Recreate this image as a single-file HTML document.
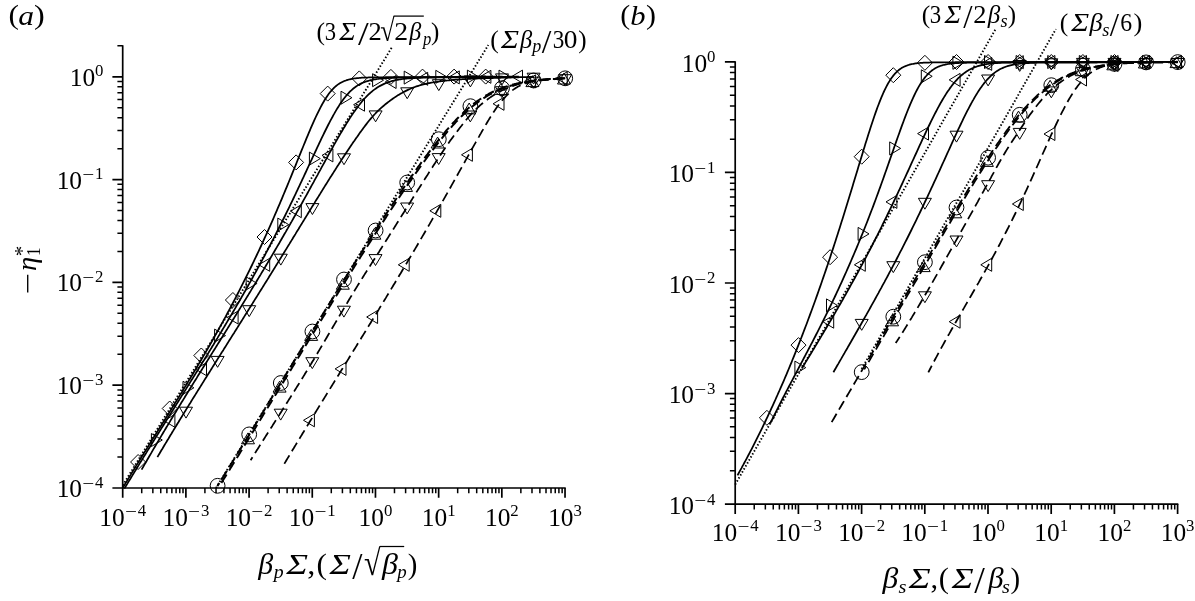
<!DOCTYPE html>
<html><head><meta charset="utf-8"><title>Figure</title>
<style>html,body{margin:0;padding:0;background:#fff}svg{display:block}</style></head>
<body><svg width="1195" height="601" viewBox="0 0 1195 601">
<path d="M112.40 488.00H565.73M122.70 497.80V45.15" stroke="#000" stroke-width="1.7" fill="none"/>
<path d="M185.89 488.00v9.8M249.08 488.00v9.8M312.27 488.00v9.8M375.46 488.00v9.8M438.65 488.00v9.8M501.84 488.00v9.8M565.03 488.00v9.8M122.70 385.20h-10.3M122.70 282.40h-10.3M122.70 179.60h-10.3M122.70 76.80h-10.3" stroke="#000" stroke-width="1.7" fill="none"/>
<path d="M141.72 488.00v5.3M152.85 488.00v5.3M160.74 488.00v5.3M166.87 488.00v5.3M171.87 488.00v5.3M176.10 488.00v5.3M179.77 488.00v5.3M183.00 488.00v5.3M204.91 488.00v5.3M216.04 488.00v5.3M223.93 488.00v5.3M230.06 488.00v5.3M235.06 488.00v5.3M239.29 488.00v5.3M242.96 488.00v5.3M246.19 488.00v5.3M268.10 488.00v5.3M279.23 488.00v5.3M287.12 488.00v5.3M293.25 488.00v5.3M298.25 488.00v5.3M302.48 488.00v5.3M306.15 488.00v5.3M309.38 488.00v5.3M331.29 488.00v5.3M342.42 488.00v5.3M350.31 488.00v5.3M356.44 488.00v5.3M361.44 488.00v5.3M365.67 488.00v5.3M369.34 488.00v5.3M372.57 488.00v5.3M394.48 488.00v5.3M405.61 488.00v5.3M413.50 488.00v5.3M419.63 488.00v5.3M424.63 488.00v5.3M428.86 488.00v5.3M432.53 488.00v5.3M435.76 488.00v5.3M457.67 488.00v5.3M468.80 488.00v5.3M476.69 488.00v5.3M482.82 488.00v5.3M487.82 488.00v5.3M492.05 488.00v5.3M495.72 488.00v5.3M498.95 488.00v5.3M520.86 488.00v5.3M531.99 488.00v5.3M539.88 488.00v5.3M546.01 488.00v5.3M551.01 488.00v5.3M555.24 488.00v5.3M558.91 488.00v5.3M562.14 488.00v5.3M122.70 457.05h-5.3M122.70 438.95h-5.3M122.70 426.11h-5.3M122.70 416.15h-5.3M122.70 408.01h-5.3M122.70 401.12h-5.3M122.70 395.16h-5.3M122.70 389.90h-5.3M122.70 354.25h-5.3M122.70 336.15h-5.3M122.70 323.31h-5.3M122.70 313.35h-5.3M122.70 305.21h-5.3M122.70 298.32h-5.3M122.70 292.36h-5.3M122.70 287.10h-5.3M122.70 251.45h-5.3M122.70 233.35h-5.3M122.70 220.51h-5.3M122.70 210.55h-5.3M122.70 202.41h-5.3M122.70 195.52h-5.3M122.70 189.56h-5.3M122.70 184.30h-5.3M122.70 148.65h-5.3M122.70 130.55h-5.3M122.70 117.71h-5.3M122.70 107.75h-5.3M122.70 99.61h-5.3M122.70 92.72h-5.3M122.70 86.76h-5.3M122.70 81.50h-5.3M122.70 45.85h-5.3" stroke="#000" stroke-width="1.5" fill="none"/>
<g><text x="99.26" y="525.50" font-family="'Liberation Serif', serif" font-size="25.4" fill="#000">10</text><text transform="translate(124.91 517.30) scale(1.254 1)" font-family="'Liberation Serif', serif" font-size="16.8" fill="#000">−</text><text x="137.74" y="516.10" font-family="'Liberation Serif', serif" font-size="16.8" fill="#000">4</text></g>
<g><text x="162.45" y="525.50" font-family="'Liberation Serif', serif" font-size="25.4" fill="#000">10</text><text transform="translate(188.10 517.30) scale(1.254 1)" font-family="'Liberation Serif', serif" font-size="16.8" fill="#000">−</text><text x="200.93" y="516.10" font-family="'Liberation Serif', serif" font-size="16.8" fill="#000">3</text></g>
<g><text x="225.64" y="525.50" font-family="'Liberation Serif', serif" font-size="25.4" fill="#000">10</text><text transform="translate(251.29 517.30) scale(1.254 1)" font-family="'Liberation Serif', serif" font-size="16.8" fill="#000">−</text><text x="264.12" y="516.10" font-family="'Liberation Serif', serif" font-size="16.8" fill="#000">2</text></g>
<g><text x="288.83" y="525.50" font-family="'Liberation Serif', serif" font-size="25.4" fill="#000">10</text><text transform="translate(314.48 517.30) scale(1.254 1)" font-family="'Liberation Serif', serif" font-size="16.8" fill="#000">−</text><text x="327.31" y="516.10" font-family="'Liberation Serif', serif" font-size="16.8" fill="#000">1</text></g>
<g><text x="358.56" y="525.50" font-family="'Liberation Serif', serif" font-size="25.4" fill="#000">10</text><text x="383.96" y="516.10" font-family="'Liberation Serif', serif" font-size="16.8" fill="#000">0</text></g>
<g><text x="421.75" y="525.50" font-family="'Liberation Serif', serif" font-size="25.4" fill="#000">10</text><text x="447.15" y="516.10" font-family="'Liberation Serif', serif" font-size="16.8" fill="#000">1</text></g>
<g><text x="484.94" y="525.50" font-family="'Liberation Serif', serif" font-size="25.4" fill="#000">10</text><text x="510.34" y="516.10" font-family="'Liberation Serif', serif" font-size="16.8" fill="#000">2</text></g>
<g><text x="548.13" y="525.50" font-family="'Liberation Serif', serif" font-size="25.4" fill="#000">10</text><text x="573.53" y="516.10" font-family="'Liberation Serif', serif" font-size="16.8" fill="#000">3</text></g>
<g><text x="56.63" y="497.05" font-family="'Liberation Serif', serif" font-size="25.4" fill="#000">10</text><text transform="translate(82.28 488.85) scale(1.254 1)" font-family="'Liberation Serif', serif" font-size="16.8" fill="#000">−</text><text x="95.10" y="487.65" font-family="'Liberation Serif', serif" font-size="16.8" fill="#000">4</text></g>
<g><text x="56.63" y="394.25" font-family="'Liberation Serif', serif" font-size="25.4" fill="#000">10</text><text transform="translate(82.28 386.05) scale(1.254 1)" font-family="'Liberation Serif', serif" font-size="16.8" fill="#000">−</text><text x="95.10" y="384.85" font-family="'Liberation Serif', serif" font-size="16.8" fill="#000">3</text></g>
<g><text x="56.63" y="291.45" font-family="'Liberation Serif', serif" font-size="25.4" fill="#000">10</text><text transform="translate(82.28 283.25) scale(1.254 1)" font-family="'Liberation Serif', serif" font-size="16.8" fill="#000">−</text><text x="95.10" y="282.05" font-family="'Liberation Serif', serif" font-size="16.8" fill="#000">2</text></g>
<g><text x="56.63" y="188.65" font-family="'Liberation Serif', serif" font-size="25.4" fill="#000">10</text><text transform="translate(82.28 180.45) scale(1.254 1)" font-family="'Liberation Serif', serif" font-size="16.8" fill="#000">−</text><text x="95.10" y="179.25" font-family="'Liberation Serif', serif" font-size="16.8" fill="#000">1</text></g>
<g><text x="69.70" y="85.85" font-family="'Liberation Serif', serif" font-size="25.4" fill="#000">10</text><text x="95.10" y="76.45" font-family="'Liberation Serif', serif" font-size="16.8" fill="#000">0</text></g>
<path d="M724.90 504.10H1178.30M735.20 513.90V61.20" stroke="#000" stroke-width="1.7" fill="none"/>
<path d="M798.40 504.10v9.8M861.60 504.10v9.8M924.80 504.10v9.8M988.00 504.10v9.8M1051.20 504.10v9.8M1114.40 504.10v9.8M1177.60 504.10v9.8M735.20 393.55h-10.3M735.20 283.00h-10.3M735.20 172.45h-10.3M735.20 61.90h-10.3" stroke="#000" stroke-width="1.7" fill="none"/>
<path d="M754.23 504.10v5.3M765.35 504.10v5.3M773.25 504.10v5.3M779.37 504.10v5.3M784.38 504.10v5.3M788.61 504.10v5.3M792.28 504.10v5.3M795.51 504.10v5.3M817.43 504.10v5.3M828.55 504.10v5.3M836.45 504.10v5.3M842.57 504.10v5.3M847.58 504.10v5.3M851.81 504.10v5.3M855.48 504.10v5.3M858.71 504.10v5.3M880.63 504.10v5.3M891.75 504.10v5.3M899.65 504.10v5.3M905.77 504.10v5.3M910.78 504.10v5.3M915.01 504.10v5.3M918.68 504.10v5.3M921.91 504.10v5.3M943.83 504.10v5.3M954.95 504.10v5.3M962.85 504.10v5.3M968.97 504.10v5.3M973.98 504.10v5.3M978.21 504.10v5.3M981.88 504.10v5.3M985.11 504.10v5.3M1007.03 504.10v5.3M1018.15 504.10v5.3M1026.05 504.10v5.3M1032.17 504.10v5.3M1037.18 504.10v5.3M1041.41 504.10v5.3M1045.08 504.10v5.3M1048.31 504.10v5.3M1070.23 504.10v5.3M1081.35 504.10v5.3M1089.25 504.10v5.3M1095.37 504.10v5.3M1100.38 504.10v5.3M1104.61 504.10v5.3M1108.28 504.10v5.3M1111.51 504.10v5.3M1133.43 504.10v5.3M1144.55 504.10v5.3M1152.45 504.10v5.3M1158.57 504.10v5.3M1163.58 504.10v5.3M1167.81 504.10v5.3M1171.48 504.10v5.3M1174.71 504.10v5.3M735.20 470.82h-5.3M735.20 451.35h-5.3M735.20 437.54h-5.3M735.20 426.83h-5.3M735.20 418.08h-5.3M735.20 410.67h-5.3M735.20 404.26h-5.3M735.20 398.61h-5.3M735.20 360.27h-5.3M735.20 340.80h-5.3M735.20 326.99h-5.3M735.20 316.28h-5.3M735.20 307.53h-5.3M735.20 300.12h-5.3M735.20 293.71h-5.3M735.20 288.06h-5.3M735.20 249.72h-5.3M735.20 230.25h-5.3M735.20 216.44h-5.3M735.20 205.73h-5.3M735.20 196.98h-5.3M735.20 189.57h-5.3M735.20 183.16h-5.3M735.20 177.51h-5.3M735.20 139.17h-5.3M735.20 119.70h-5.3M735.20 105.89h-5.3M735.20 95.18h-5.3M735.20 86.43h-5.3M735.20 79.02h-5.3M735.20 72.61h-5.3M735.20 66.96h-5.3" stroke="#000" stroke-width="1.5" fill="none"/>
<g><text x="711.76" y="540.50" font-family="'Liberation Serif', serif" font-size="25.4" fill="#000">10</text><text transform="translate(737.41 532.30) scale(1.254 1)" font-family="'Liberation Serif', serif" font-size="16.8" fill="#000">−</text><text x="750.24" y="531.10" font-family="'Liberation Serif', serif" font-size="16.8" fill="#000">4</text></g>
<g><text x="774.96" y="540.50" font-family="'Liberation Serif', serif" font-size="25.4" fill="#000">10</text><text transform="translate(800.61 532.30) scale(1.254 1)" font-family="'Liberation Serif', serif" font-size="16.8" fill="#000">−</text><text x="813.44" y="531.10" font-family="'Liberation Serif', serif" font-size="16.8" fill="#000">3</text></g>
<g><text x="838.16" y="540.50" font-family="'Liberation Serif', serif" font-size="25.4" fill="#000">10</text><text transform="translate(863.81 532.30) scale(1.254 1)" font-family="'Liberation Serif', serif" font-size="16.8" fill="#000">−</text><text x="876.64" y="531.10" font-family="'Liberation Serif', serif" font-size="16.8" fill="#000">2</text></g>
<g><text x="901.36" y="540.50" font-family="'Liberation Serif', serif" font-size="25.4" fill="#000">10</text><text transform="translate(927.01 532.30) scale(1.254 1)" font-family="'Liberation Serif', serif" font-size="16.8" fill="#000">−</text><text x="939.84" y="531.10" font-family="'Liberation Serif', serif" font-size="16.8" fill="#000">1</text></g>
<g><text x="971.10" y="540.50" font-family="'Liberation Serif', serif" font-size="25.4" fill="#000">10</text><text x="996.50" y="531.10" font-family="'Liberation Serif', serif" font-size="16.8" fill="#000">0</text></g>
<g><text x="1034.30" y="540.50" font-family="'Liberation Serif', serif" font-size="25.4" fill="#000">10</text><text x="1059.70" y="531.10" font-family="'Liberation Serif', serif" font-size="16.8" fill="#000">1</text></g>
<g><text x="1097.50" y="540.50" font-family="'Liberation Serif', serif" font-size="25.4" fill="#000">10</text><text x="1122.90" y="531.10" font-family="'Liberation Serif', serif" font-size="16.8" fill="#000">2</text></g>
<g><text x="1160.70" y="540.50" font-family="'Liberation Serif', serif" font-size="25.4" fill="#000">10</text><text x="1186.10" y="531.10" font-family="'Liberation Serif', serif" font-size="16.8" fill="#000">3</text></g>
<g><text x="668.63" y="513.90" font-family="'Liberation Serif', serif" font-size="25.4" fill="#000">10</text><text transform="translate(694.28 505.70) scale(1.254 1)" font-family="'Liberation Serif', serif" font-size="16.8" fill="#000">−</text><text x="707.10" y="504.50" font-family="'Liberation Serif', serif" font-size="16.8" fill="#000">4</text></g>
<g><text x="668.63" y="403.35" font-family="'Liberation Serif', serif" font-size="25.4" fill="#000">10</text><text transform="translate(694.28 395.15) scale(1.254 1)" font-family="'Liberation Serif', serif" font-size="16.8" fill="#000">−</text><text x="707.10" y="393.95" font-family="'Liberation Serif', serif" font-size="16.8" fill="#000">3</text></g>
<g><text x="668.63" y="292.80" font-family="'Liberation Serif', serif" font-size="25.4" fill="#000">10</text><text transform="translate(694.28 284.60) scale(1.254 1)" font-family="'Liberation Serif', serif" font-size="16.8" fill="#000">−</text><text x="707.10" y="283.40" font-family="'Liberation Serif', serif" font-size="16.8" fill="#000">2</text></g>
<g><text x="668.63" y="182.25" font-family="'Liberation Serif', serif" font-size="25.4" fill="#000">10</text><text transform="translate(694.28 174.05) scale(1.254 1)" font-family="'Liberation Serif', serif" font-size="16.8" fill="#000">−</text><text x="707.10" y="172.85" font-family="'Liberation Serif', serif" font-size="16.8" fill="#000">1</text></g>
<g><text x="681.70" y="71.70" font-family="'Liberation Serif', serif" font-size="25.4" fill="#000">10</text><text x="707.10" y="62.30" font-family="'Liberation Serif', serif" font-size="16.8" fill="#000">0</text></g>
<path d="M122.8 487.8 L123.8 486.1 L124.8 484.5 L125.8 482.8 L126.8 481.2 L127.8 479.5 L128.8 477.9 L129.8 476.2 L130.8 474.6 L131.8 472.9 L132.8 471.3 L133.8 469.7 L134.8 468.0 L135.8 466.4 L136.8 464.8 L137.8 463.1 L138.8 461.5 L139.8 459.9 L140.8 458.3 L141.8 456.6 L142.8 455.0 L143.8 453.4 L144.8 451.8 L145.8 450.2 L146.8 448.6 L147.8 447.0 L148.8 445.4 L149.8 443.8 L150.8 442.1 L151.8 440.5 L152.8 438.9 L153.8 437.3 L154.8 435.7 L155.8 434.1 L156.8 432.5 L157.8 430.9 L158.8 429.3 L159.8 427.7 L160.8 426.1 L161.8 424.5 L162.8 422.9 L163.8 421.3 L164.8 419.7 L165.8 418.1 L166.8 416.5 L167.8 414.8 L168.8 413.2 L169.8 411.6 L170.8 410.0 L171.8 408.4 L172.8 406.8 L173.8 405.2 L174.8 403.5 L175.8 401.9 L176.8 400.3 L177.8 398.7 L178.8 397.0 L179.8 395.4 L180.8 393.8 L181.8 392.2 L182.8 390.5 L183.8 388.9 L184.8 387.2 L185.8 385.6 L186.8 383.9 L187.8 382.3 L188.8 380.6 L189.8 379.0 L190.8 377.3 L191.8 375.7 L192.8 374.0 L193.8 372.3 L194.8 370.6 L195.8 369.0 L196.8 367.3 L197.8 365.6 L198.8 363.9 L199.8 362.2 L200.8 360.5 L201.8 358.8 L202.8 357.1 L203.8 355.4 L204.8 353.7 L205.8 351.9 L206.8 350.2 L207.8 348.5 L208.8 346.7 L209.8 345.0 L210.8 343.2 L211.8 341.5 L212.8 339.7 L213.8 338.0 L214.8 336.2 L215.8 334.4 L216.8 332.6 L217.8 330.8 L218.8 329.0 L219.8 327.2 L220.8 325.4 L221.8 323.6 L222.8 321.8 L223.8 319.9 L224.8 318.1 L225.8 316.3 L226.8 314.4 L227.8 312.5 L228.8 310.7 L229.8 308.8 L230.8 306.9 L231.8 305.0 L232.8 303.1 L233.8 301.2 L234.8 299.3 L235.8 297.4 L236.8 295.5 L237.8 293.5 L238.8 291.6 L239.8 289.6 L240.8 287.7 L241.8 285.7 L242.8 283.7 L243.8 281.7 L244.8 279.7 L245.8 277.7 L246.8 275.7 L247.8 273.7 L248.8 271.6 L249.8 269.6 L250.8 267.5 L251.8 265.5 L252.8 263.4 L253.8 261.3 L254.8 259.2 L255.8 257.1 L256.8 255.0 L257.8 252.9 L258.8 250.8 L259.8 248.6 L260.8 246.5 L261.8 244.3 L262.8 242.1 L263.8 239.9 L264.8 237.7 L265.8 235.5 L266.8 233.3 L267.8 231.1 L268.8 228.9 L269.8 226.6 L270.8 224.3 L271.8 222.1 L272.8 219.8 L273.8 217.5 L274.8 215.2 L275.8 212.9 L276.8 210.6 L277.8 208.2 L278.8 205.9 L279.8 203.6 L280.8 201.2 L281.8 198.8 L282.8 196.4 L283.8 194.0 L284.8 191.6 L285.8 189.2 L286.8 186.8 L287.8 184.4 L288.8 182.0 L289.8 179.5 L290.8 177.1 L291.8 174.6 L292.8 172.2 L293.8 169.7 L294.8 167.2 L295.8 164.8 L296.8 162.3 L297.8 159.8 L298.8 157.3 L299.8 154.9 L300.8 152.4 L301.8 149.9 L302.8 147.5 L303.8 145.0 L304.8 142.6 L305.8 140.1 L306.8 137.7 L307.8 135.3 L308.8 132.9 L309.8 130.6 L310.8 128.2 L311.8 125.9 L312.8 123.6 L313.8 121.4 L314.8 119.2 L315.8 117.0 L316.8 114.9 L317.8 112.8 L318.8 110.8 L319.8 108.8 L320.8 106.9 L321.8 105.0 L322.8 103.2 L323.8 101.5 L324.8 99.8 L325.8 98.2 L326.8 96.7 L327.8 95.2 L328.8 93.8 L329.8 92.5 L330.8 91.3 L331.8 90.2 L332.8 89.1 L333.8 88.0 L334.8 87.1 L335.8 86.2 L336.8 85.4 L337.8 84.6 L338.8 83.9 L339.8 83.3 L340.8 82.7 L341.8 82.2 L342.8 81.7 L343.8 81.2 L344.8 80.8 L345.8 80.5 L346.8 80.1 L347.8 79.8 L348.8 79.5 L349.8 79.3 L350.8 79.1 L351.8 78.9 L352.8 78.7 L353.8 78.5 L354.8 78.4 L355.8 78.3 L356.8 78.1 L357.8 78.0 L358.8 78.0 L359.8 77.9 L360.8 77.8 L361.8 77.7 L362.8 77.7 L363.8 77.6 L364.8 77.6 L365.8 77.5 L366.8 77.5 L367.8 77.5 L368.8 77.4 L369.8 77.4 L370.8 77.4 L371.8 77.4 L372.8 77.4 L373.8 77.3 L374.8 77.3 L375.8 77.3 L376.8 77.3 L377.8 77.3 L378.8 77.3 L379.8 77.3 L380.8 77.3 L381.8 77.3 L382.8 77.3 L383.8 77.3 L384.8 77.3 L385.8 77.2 L386.8 77.2 L387.8 77.2 L388.8 77.2 L389.8 77.2 L390.8 77.2 L391.8 77.2 L392.8 77.2 L393.8 77.2 L394.8 77.2 L395.8 77.2 L396.8 77.2 L397.8 77.2 L398.8 77.2 L399.8 77.2 L400.8 77.2 L401.8 77.2 L402.8 77.2 L403.8 77.2 L404.8 77.2 L405.8 77.2 L406.8 77.2 L407.8 77.2 L408.8 77.2 L409.8 77.1 L410.8 77.1 L411.8 77.1 L412.8 77.1 L413.8 77.1 L414.8 77.1 L415.8 77.1 L416.8 77.1 L417.8 77.1 L418.8 77.1 L419.8 77.1 L420.8 77.1 L421.8 77.1 L422.8 77.1 L423.8 77.1 L424.8 77.1 L425.8 77.1 L426.8 77.0 L427.8 77.0 L428.8 77.0 L429.8 77.0 L430.8 77.0 L431.8 77.0 L432.8 77.0 L433.8 77.0 L434.8 77.0 L435.8 77.0 L436.8 77.0 L437.8 77.0 L438.8 77.0 L439.8 76.9 L440.8 76.9 L441.8 76.9 L442.8 76.9 L443.8 76.9 L444.8 76.9 L445.8 76.9 L446.8 76.9 L447.8 76.9 L448.8 76.9 L449.8 76.9 L450.8 76.8 L451.8 76.8 L452.8 76.8 L453.8 76.8 L454.8 76.8 L455.8 76.8 L456.8 76.8 L457.8 76.8 L458.8 76.8 L459.8 76.7 L460.8 76.7 L461.8 76.7 L462.8 76.7 L463.8 76.7 L464.8 76.7 L465.8 76.7 L466.8 76.7 L467.8 76.6 L468.8 76.6 L469.8 76.6 L470.8 76.6 L471.8 76.6 L472.8 76.6 L473.8 76.6 L474.8 76.5 L475.8 76.5 L476.8 76.5 L477.8 76.5 L478.8 76.5 L479.8 76.5 L480.8 76.5 L481.8 76.4 L482.8 76.4 L483.8 76.4 L484.8 76.4 L485.7 76.4" stroke="#000" stroke-width="1.75" fill="none" stroke-linejoin="round"/>
<path d="M124.4 488.6 L125.4 486.9 L126.4 485.2 L127.4 483.6 L128.4 481.9 L129.4 480.3 L130.4 478.7 L131.4 477.0 L132.4 475.4 L133.4 473.7 L134.4 472.1 L135.4 470.5 L136.4 468.8 L137.4 467.2 L138.4 465.6 L139.4 463.9 L140.4 462.3 L141.4 460.7 L142.4 459.1 L143.4 457.4 L144.4 455.8 L145.4 454.2 L146.4 452.6 L147.4 450.9 L148.4 449.3 L149.4 447.7 L150.4 446.1 L151.4 444.5 L152.4 442.9 L153.4 441.3 L154.4 439.6 L155.4 438.0 L156.4 436.4 L157.4 434.8 L158.4 433.2 L159.4 431.6 L160.4 430.0 L161.4 428.4 L162.4 426.8 L163.4 425.2 L164.4 423.6 L165.4 422.0 L166.4 420.4 L167.4 418.8 L168.4 417.2 L169.4 415.6 L170.4 414.0 L171.4 412.4 L172.4 410.8 L173.4 409.2 L174.4 407.6 L175.4 406.0 L176.4 404.4 L177.4 402.8 L178.4 401.2 L179.4 399.6 L180.4 398.0 L181.4 396.4 L182.4 394.8 L183.4 393.2 L184.4 391.6 L185.4 390.0 L186.4 388.4 L187.4 386.7 L188.4 385.1 L189.4 383.5 L190.4 381.9 L191.4 380.3 L192.4 378.7 L193.4 377.1 L194.4 375.5 L195.4 373.9 L196.4 372.3 L197.4 370.7 L198.4 369.1 L199.4 367.4 L200.4 365.8 L201.4 364.2 L202.4 362.6 L203.4 361.0 L204.4 359.4 L205.4 357.7 L206.4 356.1 L207.4 354.5 L208.4 352.9 L209.4 351.2 L210.4 349.6 L211.4 348.0 L212.4 346.3 L213.4 344.7 L214.4 343.0 L215.4 341.4 L216.4 339.7 L217.4 338.1 L218.4 336.4 L219.4 334.8 L220.4 333.1 L221.4 331.5 L222.4 329.8 L223.4 328.1 L224.4 326.5 L225.4 324.8 L226.4 323.1 L227.4 321.4 L228.4 319.7 L229.4 318.1 L230.4 316.4 L231.4 314.7 L232.4 313.0 L233.4 311.3 L234.4 309.6 L235.4 307.9 L236.4 306.1 L237.4 304.4 L238.4 302.7 L239.4 301.0 L240.4 299.2 L241.4 297.5 L242.4 295.7 L243.4 294.0 L244.4 292.2 L245.4 290.5 L246.4 288.7 L247.4 287.0 L248.4 285.2 L249.4 283.4 L250.4 281.6 L251.4 279.8 L252.4 278.0 L253.4 276.2 L254.4 274.4 L255.4 272.6 L256.4 270.8 L257.4 268.9 L258.4 267.1 L259.4 265.3 L260.4 263.4 L261.4 261.6 L262.4 259.7 L263.4 257.8 L264.4 256.0 L265.4 254.1 L266.4 252.2 L267.4 250.3 L268.4 248.4 L269.4 246.5 L270.4 244.6 L271.4 242.7 L272.4 240.7 L273.4 238.8 L274.4 236.8 L275.4 234.9 L276.4 232.9 L277.4 231.0 L278.4 229.0 L279.4 227.0 L280.4 225.0 L281.4 223.0 L282.4 221.0 L283.4 219.0 L284.4 217.0 L285.4 215.0 L286.4 212.9 L287.4 210.9 L288.4 208.8 L289.4 206.8 L290.4 204.7 L291.4 202.6 L292.4 200.6 L293.4 198.5 L294.4 196.4 L295.4 194.3 L296.4 192.2 L297.4 190.1 L298.4 187.9 L299.4 185.8 L300.4 183.7 L301.4 181.6 L302.4 179.4 L303.4 177.3 L304.4 175.1 L305.4 173.0 L306.4 170.8 L307.4 168.7 L308.4 166.5 L309.4 164.4 L310.4 162.2 L311.4 160.1 L312.4 157.9 L313.4 155.7 L314.4 153.6 L315.4 151.5 L316.4 149.3 L317.4 147.2 L318.4 145.1 L319.4 142.9 L320.4 140.8 L321.4 138.7 L322.4 136.6 L323.4 134.6 L324.4 132.5 L325.4 130.5 L326.4 128.5 L327.4 126.5 L328.4 124.5 L329.4 122.6 L330.4 120.7 L331.4 118.8 L332.4 117.0 L333.4 115.1 L334.4 113.4 L335.4 111.6 L336.4 109.9 L337.4 108.3 L338.4 106.7 L339.4 105.1 L340.4 103.6 L341.4 102.1 L342.4 100.7 L343.4 99.3 L344.4 98.0 L345.4 96.7 L346.4 95.5 L347.4 94.4 L348.4 93.3 L349.4 92.2 L350.4 91.2 L351.4 90.3 L352.4 89.4 L353.4 88.5 L354.4 87.7 L355.4 87.0 L356.4 86.3 L357.4 85.6 L358.4 85.0 L359.4 84.4 L360.4 83.9 L361.4 83.4 L362.4 82.9 L363.4 82.5 L364.4 82.1 L365.4 81.7 L366.4 81.4 L367.4 81.1 L368.4 80.8 L369.4 80.5 L370.4 80.2 L371.4 80.0 L372.4 79.8 L373.4 79.6 L374.4 79.4 L375.4 79.3 L376.4 79.1 L377.4 79.0 L378.4 78.9 L379.4 78.7 L380.4 78.6 L381.4 78.5 L382.4 78.5 L383.4 78.4 L384.4 78.3 L385.4 78.2 L386.4 78.2 L387.4 78.1 L388.4 78.0 L389.4 78.0 L390.4 77.9 L391.4 77.9 L392.4 77.9 L393.4 77.8 L394.4 77.8 L395.4 77.8 L396.4 77.7 L397.4 77.7 L398.4 77.7 L399.4 77.7 L400.4 77.6 L401.4 77.6 L402.4 77.6 L403.4 77.6 L404.4 77.5 L405.4 77.5 L406.4 77.5 L407.4 77.5 L408.4 77.5 L409.4 77.5 L410.4 77.4 L411.4 77.4 L412.4 77.4 L413.4 77.4 L414.4 77.4 L415.4 77.4 L416.4 77.3 L417.4 77.3 L418.4 77.3 L419.4 77.3 L420.4 77.3 L421.4 77.3 L422.4 77.3 L423.4 77.2 L424.4 77.2 L425.4 77.2 L426.4 77.2 L427.4 77.2 L428.4 77.2 L429.4 77.2 L430.4 77.2 L431.4 77.1 L432.4 77.1 L433.4 77.1 L434.4 77.1 L435.4 77.1 L436.4 77.1 L437.4 77.1 L438.4 77.0 L439.4 77.0 L440.4 77.0 L441.4 77.0 L442.4 77.0 L443.4 77.0 L444.4 77.0 L445.4 77.0 L446.4 76.9 L447.4 76.9 L448.4 76.9 L449.4 76.9 L450.4 76.9 L451.4 76.9 L452.4 76.9 L453.4 76.9 L454.4 76.9 L455.4 76.8 L456.4 76.8 L457.4 76.8 L458.4 76.8 L459.4 76.8 L460.4 76.8 L461.4 76.8 L462.4 76.8 L463.4 76.8 L464.4 76.8 L465.4 76.7 L466.4 76.7 L467.4 76.7 L468.4 76.7 L469.4 76.7 L470.4 76.7 L471.4 76.7 L472.4 76.7 L473.4 76.7 L474.4 76.7 L475.4 76.7 L476.4 76.6 L477.4 76.6 L478.4 76.6 L479.4 76.6 L480.4 76.6 L481.4 76.6 L482.4 76.6 L483.4 76.6 L484.4 76.6 L485.4 76.6 L486.4 76.6 L487.4 76.6 L488.4 76.6 L489.4 76.6 L490.4 76.6 L491.4 76.6 L492.4 76.6 L493.4 76.5 L494.4 76.5 L495.4 76.5 L496.4 76.5 L497.4 76.5 L498.4 76.5 L499.4 76.5 L500.4 76.5 L501.4 76.5 L502.4 76.5 L502.6 76.5" stroke="#000" stroke-width="1.75" fill="none" stroke-linejoin="round"/>
<path d="M141.6 469.7 L142.6 467.9 L143.6 466.2 L144.6 464.4 L145.6 462.7 L146.6 461.0 L147.6 459.2 L148.6 457.5 L149.6 455.8 L150.6 454.1 L151.6 452.4 L152.6 450.6 L153.6 448.9 L154.6 447.2 L155.6 445.5 L156.6 443.8 L157.6 442.1 L158.6 440.5 L159.6 438.8 L160.6 437.1 L161.6 435.4 L162.6 433.7 L163.6 432.0 L164.6 430.4 L165.6 428.7 L166.6 427.0 L167.6 425.4 L168.6 423.7 L169.6 422.1 L170.6 420.4 L171.6 418.7 L172.6 417.1 L173.6 415.4 L174.6 413.8 L175.6 412.2 L176.6 410.5 L177.6 408.9 L178.6 407.2 L179.6 405.6 L180.6 404.0 L181.6 402.3 L182.6 400.7 L183.6 399.1 L184.6 397.5 L185.6 395.8 L186.6 394.2 L187.6 392.6 L188.6 391.0 L189.6 389.3 L190.6 387.7 L191.6 386.1 L192.6 384.5 L193.6 382.9 L194.6 381.3 L195.6 379.7 L196.6 378.1 L197.6 376.4 L198.6 374.8 L199.6 373.2 L200.6 371.6 L201.6 370.0 L202.6 368.4 L203.6 366.8 L204.6 365.2 L205.6 363.6 L206.6 362.0 L207.6 360.4 L208.6 358.8 L209.6 357.2 L210.6 355.6 L211.6 354.0 L212.6 352.4 L213.6 350.8 L214.6 349.2 L215.6 347.6 L216.6 346.0 L217.6 344.4 L218.6 342.8 L219.6 341.2 L220.6 339.6 L221.6 338.0 L222.6 336.4 L223.6 334.8 L224.6 333.2 L225.6 331.6 L226.6 330.0 L227.6 328.4 L228.6 326.7 L229.6 325.1 L230.6 323.5 L231.6 321.9 L232.6 320.3 L233.6 318.7 L234.6 317.1 L235.6 315.5 L236.6 313.9 L237.6 312.2 L238.6 310.6 L239.6 309.0 L240.6 307.4 L241.6 305.8 L242.6 304.1 L243.6 302.5 L244.6 300.9 L245.6 299.3 L246.6 297.6 L247.6 296.0 L248.6 294.4 L249.6 292.7 L250.6 291.1 L251.6 289.4 L252.6 287.8 L253.6 286.1 L254.6 284.5 L255.6 282.9 L256.6 281.2 L257.6 279.5 L258.6 277.9 L259.6 276.2 L260.6 274.6 L261.6 272.9 L262.6 271.2 L263.6 269.6 L264.6 267.9 L265.6 266.2 L266.6 264.5 L267.6 262.9 L268.6 261.2 L269.6 259.5 L270.6 257.8 L271.6 256.1 L272.6 254.4 L273.6 252.7 L274.6 251.0 L275.6 249.3 L276.6 247.6 L277.6 245.9 L278.6 244.2 L279.6 242.5 L280.6 240.7 L281.6 239.0 L282.6 237.3 L283.6 235.5 L284.6 233.8 L285.6 232.1 L286.6 230.3 L287.6 228.6 L288.6 226.8 L289.6 225.1 L290.6 223.3 L291.6 221.6 L292.6 219.8 L293.6 218.0 L294.6 216.3 L295.6 214.5 L296.6 212.7 L297.6 210.9 L298.6 209.2 L299.6 207.4 L300.6 205.6 L301.6 203.8 L302.6 202.0 L303.6 200.2 L304.6 198.4 L305.6 196.6 L306.6 194.8 L307.6 193.0 L308.6 191.2 L309.6 189.3 L310.6 187.5 L311.6 185.7 L312.6 183.9 L313.6 182.1 L314.6 180.2 L315.6 178.4 L316.6 176.6 L317.6 174.8 L318.6 172.9 L319.6 171.1 L320.6 169.3 L321.6 167.4 L322.6 165.6 L323.6 163.8 L324.6 162.0 L325.6 160.1 L326.6 158.3 L327.6 156.5 L328.6 154.7 L329.6 152.9 L330.6 151.1 L331.6 149.3 L332.6 147.5 L333.6 145.7 L334.6 143.9 L335.6 142.1 L336.6 140.4 L337.6 138.6 L338.6 136.9 L339.6 135.1 L340.6 133.4 L341.6 131.7 L342.6 130.0 L343.6 128.3 L344.6 126.7 L345.6 125.0 L346.6 123.4 L347.6 121.8 L348.6 120.2 L349.6 118.6 L350.6 117.1 L351.6 115.6 L352.6 114.1 L353.6 112.6 L354.6 111.2 L355.6 109.8 L356.6 108.4 L357.6 107.1 L358.6 105.7 L359.6 104.5 L360.6 103.2 L361.6 102.0 L362.6 100.8 L363.6 99.6 L364.6 98.5 L365.6 97.5 L366.6 96.4 L367.6 95.4 L368.6 94.4 L369.6 93.5 L370.6 92.6 L371.6 91.8 L372.6 90.9 L373.6 90.1 L374.6 89.4 L375.6 88.7 L376.6 88.0 L377.6 87.3 L378.6 86.7 L379.6 86.1 L380.6 85.6 L381.6 85.1 L382.6 84.6 L383.6 84.1 L384.6 83.6 L385.6 83.2 L386.6 82.8 L387.6 82.5 L388.6 82.1 L389.6 81.8 L390.6 81.5 L391.6 81.2 L392.6 80.9 L393.6 80.7 L394.6 80.4 L395.6 80.2 L396.6 80.0 L397.6 79.8 L398.6 79.6 L399.6 79.5 L400.6 79.3 L401.6 79.2 L402.6 79.0 L403.6 78.9 L404.6 78.8 L405.6 78.7 L406.6 78.6 L407.6 78.5 L408.6 78.4 L409.6 78.3 L410.6 78.3 L411.6 78.2 L412.6 78.1 L413.6 78.1 L414.6 78.0 L415.6 78.0 L416.6 77.9 L417.6 77.9 L418.6 77.8 L419.6 77.8 L420.6 77.8 L421.6 77.7 L422.6 77.7 L423.6 77.7 L424.6 77.7 L425.6 77.6 L426.6 77.6 L427.6 77.6 L428.6 77.6 L429.6 77.6 L430.6 77.5 L431.6 77.5 L432.6 77.5 L433.6 77.5 L434.6 77.5 L435.6 77.5 L436.6 77.5 L437.6 77.4 L438.6 77.4 L439.6 77.4 L440.6 77.4 L441.6 77.4 L442.6 77.4 L443.6 77.4 L444.6 77.4 L445.6 77.4 L446.6 77.4 L447.6 77.3 L448.6 77.3 L449.6 77.3 L450.6 77.3 L451.6 77.3 L452.6 77.3 L453.6 77.3 L454.6 77.3 L455.6 77.3 L456.6 77.3 L457.6 77.3 L458.6 77.3 L459.6 77.2 L460.6 77.2 L461.6 77.2 L462.6 77.2 L463.6 77.2 L464.6 77.2 L465.6 77.2 L466.6 77.2 L467.6 77.2 L468.6 77.2 L469.6 77.2 L470.6 77.2 L471.6 77.1 L472.6 77.1 L473.6 77.1 L474.6 77.1 L475.6 77.1 L476.6 77.1 L477.6 77.1 L478.6 77.1 L479.6 77.1 L480.6 77.1 L481.6 77.1 L482.6 77.0 L483.6 77.0 L484.6 77.0 L485.6 77.0 L486.6 77.0 L487.6 77.0 L488.6 77.0 L489.6 77.0 L490.6 77.0 L491.6 76.9 L492.6 76.9 L493.6 76.9 L494.6 76.9 L495.6 76.9 L496.6 76.9 L497.6 76.9 L498.6 76.9 L499.6 76.8 L500.6 76.8 L501.6 76.8 L502.6 76.8 L503.6 76.8 L504.6 76.8 L505.6 76.8 L506.6 76.8 L507.6 76.7 L508.6 76.7 L509.6 76.7 L510.6 76.7 L511.6 76.7 L512.6 76.7 L513.6 76.7 L514.6 76.6 L515.6 76.6 L516.6 76.6 L517.6 76.6 L518.6 76.6 L518.9 76.6" stroke="#000" stroke-width="1.75" fill="none" stroke-linejoin="round"/>
<path d="M157.4 457.1 L158.4 455.4 L159.4 453.7 L160.4 452.0 L161.4 450.3 L162.4 448.7 L163.4 447.0 L164.4 445.3 L165.4 443.6 L166.4 442.0 L167.4 440.3 L168.4 438.7 L169.4 437.0 L170.4 435.3 L171.4 433.7 L172.4 432.0 L173.4 430.4 L174.4 428.7 L175.4 427.1 L176.4 425.5 L177.4 423.8 L178.4 422.2 L179.4 420.5 L180.4 418.9 L181.4 417.3 L182.4 415.6 L183.4 414.0 L184.4 412.4 L185.4 410.8 L186.4 409.1 L187.4 407.5 L188.4 405.9 L189.4 404.3 L190.4 402.7 L191.4 401.0 L192.4 399.4 L193.4 397.8 L194.4 396.2 L195.4 394.6 L196.4 393.0 L197.4 391.4 L198.4 389.8 L199.4 388.2 L200.4 386.6 L201.4 385.0 L202.4 383.4 L203.4 381.8 L204.4 380.1 L205.4 378.5 L206.4 377.0 L207.4 375.4 L208.4 373.8 L209.4 372.2 L210.4 370.6 L211.4 369.0 L212.4 367.4 L213.4 365.8 L214.4 364.2 L215.4 362.6 L216.4 361.0 L217.4 359.4 L218.4 357.8 L219.4 356.2 L220.4 354.6 L221.4 353.0 L222.4 351.4 L223.4 349.9 L224.4 348.3 L225.4 346.7 L226.4 345.1 L227.4 343.5 L228.4 341.9 L229.4 340.3 L230.4 338.7 L231.4 337.1 L232.4 335.5 L233.4 333.9 L234.4 332.4 L235.4 330.8 L236.4 329.2 L237.4 327.6 L238.4 326.0 L239.4 324.4 L240.4 322.8 L241.4 321.2 L242.4 319.6 L243.4 318.0 L244.4 316.4 L245.4 314.8 L246.4 313.2 L247.4 311.6 L248.4 310.0 L249.4 308.4 L250.4 306.8 L251.4 305.2 L252.4 303.6 L253.4 302.0 L254.4 300.4 L255.4 298.8 L256.4 297.2 L257.4 295.6 L258.4 294.0 L259.4 292.4 L260.4 290.8 L261.4 289.2 L262.4 287.6 L263.4 286.0 L264.4 284.4 L265.4 282.8 L266.4 281.2 L267.4 279.6 L268.4 278.0 L269.4 276.3 L270.4 274.7 L271.4 273.1 L272.4 271.5 L273.4 269.9 L274.4 268.3 L275.4 266.6 L276.4 265.0 L277.4 263.4 L278.4 261.8 L279.4 260.1 L280.4 258.5 L281.4 256.9 L282.4 255.3 L283.4 253.6 L284.4 252.0 L285.4 250.4 L286.4 248.8 L287.4 247.1 L288.4 245.5 L289.4 243.9 L290.4 242.2 L291.4 240.6 L292.4 239.0 L293.4 237.3 L294.4 235.7 L295.4 234.1 L296.4 232.4 L297.4 230.8 L298.4 229.2 L299.4 227.5 L300.4 225.9 L301.4 224.3 L302.4 222.6 L303.4 221.0 L304.4 219.4 L305.4 217.7 L306.4 216.1 L307.4 214.5 L308.4 212.8 L309.4 211.2 L310.4 209.6 L311.4 207.9 L312.4 206.3 L313.4 204.7 L314.4 203.1 L315.4 201.4 L316.4 199.8 L317.4 198.2 L318.4 196.6 L319.4 195.0 L320.4 193.4 L321.4 191.7 L322.4 190.1 L323.4 188.5 L324.4 186.9 L325.4 185.3 L326.4 183.7 L327.4 182.1 L328.4 180.5 L329.4 178.9 L330.4 177.3 L331.4 175.8 L332.4 174.2 L333.4 172.6 L334.4 171.0 L335.4 169.5 L336.4 167.9 L337.4 166.3 L338.4 164.8 L339.4 163.2 L340.4 161.7 L341.4 160.1 L342.4 158.6 L343.4 157.1 L344.4 155.5 L345.4 154.0 L346.4 152.5 L347.4 151.0 L348.4 149.5 L349.4 148.0 L350.4 146.5 L351.4 145.0 L352.4 143.6 L353.4 142.1 L354.4 140.7 L355.4 139.2 L356.4 137.8 L357.4 136.4 L358.4 134.9 L359.4 133.5 L360.4 132.1 L361.4 130.8 L362.4 129.4 L363.4 128.0 L364.4 126.7 L365.4 125.4 L366.4 124.1 L367.4 122.8 L368.4 121.5 L369.4 120.3 L370.4 119.1 L371.4 117.9 L372.4 116.8 L373.4 115.6 L374.4 114.5 L375.4 113.5 L376.4 112.4 L377.4 111.4 L378.4 110.5 L379.4 109.5 L380.4 108.6 L381.4 107.7 L382.4 106.8 L383.4 106.0 L384.4 105.1 L385.4 104.3 L386.4 103.5 L387.4 102.7 L388.4 101.9 L389.4 101.2 L390.4 100.4 L391.4 99.7 L392.4 99.0 L393.4 98.3 L394.4 97.6 L395.4 96.9 L396.4 96.3 L397.4 95.6 L398.4 95.0 L399.4 94.4 L400.4 93.8 L401.4 93.2 L402.4 92.7 L403.4 92.1 L404.4 91.6 L405.4 91.1 L406.4 90.6 L407.4 90.1 L408.4 89.6 L409.4 89.2 L410.4 88.8 L411.4 88.3 L412.4 87.9 L413.4 87.5 L414.4 87.2 L415.4 86.8 L416.4 86.4 L417.4 86.1 L418.4 85.8 L419.4 85.5 L420.4 85.2 L421.4 84.9 L422.4 84.6 L423.4 84.4 L424.4 84.1 L425.4 83.9 L426.4 83.7 L427.4 83.5 L428.4 83.2 L429.4 83.1 L430.4 82.9 L431.4 82.7 L432.4 82.5 L433.4 82.3 L434.4 82.2 L435.4 82.0 L436.4 81.9 L437.4 81.7 L438.4 81.6 L439.4 81.5 L440.4 81.3 L441.4 81.2 L442.4 81.1 L443.4 80.9 L444.4 80.8 L445.4 80.7 L446.4 80.6 L447.4 80.5 L448.4 80.4 L449.4 80.3 L450.4 80.2 L451.4 80.1 L452.4 80.0 L453.4 79.9 L454.4 79.8 L455.4 79.7 L456.4 79.6 L457.4 79.5 L458.4 79.5 L459.4 79.4 L460.4 79.3 L461.4 79.3 L462.4 79.2 L463.4 79.1 L464.4 79.1 L465.4 79.0 L466.4 79.0 L467.4 78.9 L468.4 78.9 L469.4 78.8 L470.4 78.8 L471.4 78.7 L472.4 78.7 L473.4 78.6 L474.4 78.6 L475.4 78.5 L476.4 78.5 L477.4 78.5 L478.4 78.4 L479.4 78.4 L480.4 78.4 L481.4 78.3 L482.4 78.3 L483.4 78.3 L484.4 78.2 L485.4 78.2 L486.4 78.2 L487.4 78.1 L488.4 78.1 L489.4 78.1 L490.4 78.0 L491.4 78.0 L492.4 78.0 L493.4 78.0 L494.4 77.9 L495.4 77.9 L496.4 77.9 L497.4 77.8 L498.4 77.8 L499.4 77.8 L500.4 77.8 L501.4 77.7 L502.4 77.7 L503.4 77.7 L504.4 77.7 L505.4 77.6 L506.4 77.6 L507.4 77.6 L508.4 77.6 L509.4 77.5 L510.4 77.5 L511.4 77.5 L512.4 77.4 L513.4 77.4 L514.4 77.4 L515.4 77.4 L516.4 77.3 L517.4 77.3 L518.4 77.3 L519.4 77.2 L520.4 77.2 L521.4 77.2 L522.4 77.1 L523.4 77.1 L524.4 77.1 L525.4 77.0 L526.4 77.0 L527.4 77.0 L528.4 76.9 L529.4 76.9 L530.4 76.9 L531.4 76.8 L532.4 76.8 L533.4 76.8 L533.6 76.8" stroke="#000" stroke-width="1.75" fill="none" stroke-linejoin="round"/>
<path d="M565.2 78.3 L564.6 78.3 L563.6 78.3 L562.6 78.4 L561.6 78.4 L560.6 78.5 L559.6 78.5 L558.6 78.6 L557.6 78.6 L556.6 78.7 L555.6 78.7 L554.6 78.8 L553.6 78.9 L552.6 78.9 L551.6 79.0 L550.6 79.0 L549.6 79.1 L548.6 79.2 L547.6 79.3 L546.6 79.3 L545.6 79.4 L544.6 79.5 L543.6 79.6 L542.6 79.7 L541.6 79.8 L540.6 79.9 L539.6 80.0 L538.6 80.1 L537.6 80.2 L536.6 80.3 L535.6 80.4 L534.6 80.5 L533.6 80.7 L532.6 80.8 L531.6 80.9 L530.6 81.1 L529.6 81.2 L528.6 81.4 L527.6 81.5 L526.6 81.7 L525.6 81.8 L524.6 82.0 L523.6 82.2 L522.6 82.4 L521.6 82.6 L520.6 82.8 L519.6 83.0 L518.6 83.2 L517.6 83.4 L516.6 83.6 L515.6 83.9 L514.6 84.1 L513.6 84.4 L512.6 84.6 L511.6 84.9 L510.6 85.2 L509.6 85.4 L508.6 85.7 L507.6 86.0 L506.6 86.4 L505.6 86.7 L504.6 87.0 L503.6 87.4 L502.6 87.7 L501.6 88.1 L500.6 88.5 L499.6 88.9 L498.6 89.3 L497.6 89.7 L496.6 90.1 L495.6 90.6 L494.6 91.0 L493.6 91.5 L492.6 92.0 L491.6 92.5 L490.6 93.0 L489.6 93.5 L488.6 94.0 L487.6 94.6 L486.6 95.1 L485.6 95.7 L484.6 96.3 L483.6 96.9 L482.6 97.6 L481.6 98.2 L480.6 98.9 L479.6 99.5 L478.6 100.2 L477.6 100.9 L476.6 101.6 L475.6 102.4 L474.6 103.1 L473.6 103.9 L472.6 104.7 L471.6 105.5 L470.6 106.3 L469.6 107.1 L468.6 108.0 L467.6 108.8 L466.6 109.7 L465.6 110.6 L464.6 111.5 L463.6 112.4 L462.6 113.4 L461.6 114.3 L460.6 115.3 L459.6 116.3 L458.6 117.3 L457.6 118.3 L456.6 119.3 L455.6 120.3 L454.6 121.4 L453.6 122.4 L452.6 123.5 L451.6 124.6 L450.6 125.7 L449.6 126.8 L448.6 128.0 L447.6 129.1 L446.6 130.2 L445.6 131.4 L444.6 132.6 L443.6 133.8 L442.6 135.0 L441.6 136.2 L440.6 137.4 L439.6 138.6 L438.6 139.9 L437.6 141.1 L436.6 142.4 L435.6 143.6 L434.6 144.9 L433.6 146.2 L432.6 147.5 L431.6 148.8 L430.6 150.1 L429.6 151.4 L428.6 152.7 L427.6 154.1 L426.6 155.4 L425.6 156.7 L424.6 158.1 L423.6 159.5 L422.6 160.8 L421.6 162.2 L420.6 163.6 L419.6 165.0 L418.6 166.3 L417.6 167.7 L416.6 169.2 L415.6 170.6 L414.6 172.0 L413.6 173.4 L412.6 174.8 L411.6 176.2 L410.6 177.7 L409.6 179.1 L408.6 180.6 L407.6 182.0 L406.6 183.5 L405.6 184.9 L404.6 186.4 L403.6 187.8 L402.6 189.3 L401.6 190.8 L400.6 192.3 L399.6 193.7 L398.6 195.2 L397.6 196.7 L396.6 198.2 L395.6 199.7 L394.6 201.2 L393.6 202.7 L392.6 204.2 L391.6 205.7 L390.6 207.2 L389.6 208.7 L388.6 210.2 L387.6 211.8 L386.6 213.3 L385.6 214.8 L384.6 216.3 L383.6 217.9 L382.6 219.4 L381.6 220.9 L380.6 222.5 L379.6 224.0 L378.6 225.5 L377.6 227.1 L376.6 228.6 L375.6 230.2 L374.6 231.7 L373.6 233.3 L372.6 234.8 L371.6 236.4 L370.6 238.0 L369.6 239.5 L368.6 241.1 L367.6 242.6 L366.6 244.2 L365.6 245.8 L364.6 247.4 L363.6 248.9 L362.6 250.5 L361.6 252.1 L360.6 253.7 L359.6 255.2 L358.6 256.8 L357.6 258.4 L356.6 260.0 L355.6 261.6 L354.6 263.1 L353.6 264.7 L352.6 266.3 L351.6 267.9 L350.6 269.5 L349.6 271.1 L348.6 272.7 L347.6 274.3 L346.6 275.9 L345.6 277.5 L344.6 279.1 L343.6 280.7 L342.6 282.3 L341.6 283.9 L340.6 285.5 L339.6 287.1 L338.6 288.7 L337.6 290.3 L336.6 291.9 L335.6 293.6 L334.6 295.2 L333.6 296.8 L332.6 298.4 L331.6 300.0 L330.6 301.6 L329.6 303.2 L328.6 304.9 L327.6 306.5 L326.6 308.1 L325.6 309.7 L324.6 311.3 L323.6 313.0 L322.6 314.6 L321.6 316.2 L320.6 317.8 L319.6 319.5 L318.6 321.1 L317.6 322.7 L316.6 324.3 L315.6 326.0 L314.6 327.6 L313.6 329.2 L312.6 330.9 L311.6 332.5 L310.6 334.1 L309.6 335.7 L308.6 337.4 L307.6 339.0 L306.6 340.6 L305.6 342.3 L304.6 343.9 L303.6 345.5 L302.6 347.2 L301.6 348.8 L300.6 350.4 L299.6 352.1 L298.6 353.7 L297.6 355.4 L296.6 357.0 L295.6 358.6 L294.6 360.3 L293.6 361.9 L292.6 363.5 L291.6 365.2 L290.6 366.8 L289.6 368.5 L288.6 370.1 L287.6 371.7 L286.6 373.4 L285.6 375.0 L284.6 376.7 L283.6 378.3 L282.6 379.9 L281.6 381.6 L280.6 383.2 L279.6 384.9 L278.6 386.5 L277.6 388.1 L276.6 389.8 L275.6 391.4 L274.6 393.1 L273.6 394.7 L272.6 396.3 L271.6 398.0 L270.6 399.6 L269.6 401.2 L268.6 402.9 L267.6 404.5 L266.6 406.2 L265.6 407.8 L264.6 409.4 L263.6 411.1 L262.6 412.7 L261.6 414.3 L260.6 416.0 L259.6 417.6 L258.6 419.3 L257.6 420.9 L256.6 422.5 L255.6 424.2 L254.6 425.8 L253.6 427.4 L252.6 429.1 L251.6 430.7 L250.6 432.3 L249.6 433.9 L248.6 435.6 L247.6 437.2 L246.6 438.8 L245.6 440.5 L244.6 442.1 L243.6 443.7 L242.6 445.3 L241.6 447.0 L240.6 448.6 L239.6 450.2 L238.6 451.8 L237.6 453.5 L236.6 455.1 L235.6 456.7 L234.6 458.3 L233.6 460.0 L232.6 461.6 L231.6 463.2 L230.6 464.8 L229.6 466.4 L228.6 468.0 L227.6 469.7 L226.6 471.3 L225.6 472.9 L224.6 474.5 L223.6 476.1 L222.6 477.7 L221.6 479.3 L220.6 480.9 L219.6 482.5 L218.6 484.1 L217.6 485.7 L217.3 486.1" stroke="#000" stroke-width="2.0" fill="none" stroke-dasharray="9.8 4.8" stroke-dashoffset="0" stroke-linejoin="round"/>
<path d="M564.6 78.4 L563.6 78.4 L562.6 78.5 L561.6 78.5 L560.6 78.6 L559.6 78.6 L558.6 78.7 L557.6 78.7 L556.6 78.8 L555.6 78.9 L554.6 78.9 L553.6 79.0 L552.6 79.0 L551.6 79.1 L550.6 79.2 L549.6 79.3 L548.6 79.3 L547.6 79.4 L546.6 79.5 L545.6 79.6 L544.6 79.7 L543.6 79.8 L542.6 79.9 L541.6 80.0 L540.6 80.1 L539.6 80.2 L538.6 80.3 L537.6 80.4 L536.6 80.5 L535.6 80.7 L534.6 80.8 L533.6 80.9 L532.6 81.1 L531.6 81.2 L530.6 81.4 L529.6 81.5 L528.6 81.7 L527.6 81.8 L526.6 82.0 L525.6 82.2 L524.6 82.4 L523.6 82.6 L522.6 82.8 L521.6 83.0 L520.6 83.2 L519.6 83.4 L518.6 83.6 L517.6 83.9 L516.6 84.1 L515.6 84.4 L514.6 84.6 L513.6 84.9 L512.6 85.2 L511.6 85.4 L510.6 85.7 L509.6 86.0 L508.6 86.4 L507.6 86.7 L506.6 87.0 L505.6 87.4 L504.6 87.7 L503.6 88.1 L502.6 88.5 L501.6 88.9 L500.6 89.3 L499.6 89.7 L498.6 90.1 L497.6 90.6 L496.6 91.0 L495.6 91.5 L494.6 92.0 L493.6 92.5 L492.6 93.0 L491.6 93.5 L490.6 94.0 L489.6 94.6 L488.6 95.1 L487.6 95.7 L486.6 96.3 L485.6 96.9 L484.6 97.6 L483.6 98.2 L482.6 98.9 L481.6 99.5 L480.6 100.2 L479.6 100.9 L478.6 101.6 L477.6 102.4 L476.6 103.1 L475.6 103.9 L474.6 104.7 L473.6 105.5 L472.6 106.3 L471.6 107.1 L470.6 108.0 L469.6 108.8 L468.6 109.7 L467.6 110.6 L466.6 111.5 L465.6 112.4 L464.6 113.4 L463.6 114.3 L462.6 115.3 L461.6 116.3 L460.6 117.3 L459.6 118.3 L458.6 119.3 L457.6 120.3 L456.6 121.4 L455.6 122.4 L454.6 123.5 L453.6 124.6 L452.6 125.7 L451.6 126.8 L450.6 128.0 L449.6 129.1 L448.6 130.2 L447.6 131.4 L446.6 132.6 L445.6 133.8 L444.6 135.0 L443.6 136.2 L442.6 137.4 L441.6 138.6 L440.6 139.9 L439.6 141.1 L438.6 142.4 L437.6 143.6 L436.6 144.9 L435.6 146.2 L434.6 147.5 L433.6 148.8 L432.6 150.1 L431.6 151.4 L430.6 152.7 L429.6 154.1 L428.6 155.4 L427.6 156.7 L426.6 158.1 L425.6 159.5 L424.6 160.8 L423.6 162.2 L422.6 163.6 L421.6 165.0 L420.6 166.3 L419.6 167.7 L418.6 169.2 L417.6 170.6 L416.6 172.0 L415.6 173.4 L414.6 174.8 L413.6 176.2 L412.6 177.7 L411.6 179.1 L410.6 180.6 L409.6 182.0 L408.6 183.5 L407.6 184.9 L406.6 186.4 L405.6 187.8 L404.6 189.3 L403.6 190.8 L402.6 192.3 L401.6 193.7 L400.6 195.2 L399.6 196.7 L398.6 198.2 L397.6 199.7 L396.6 201.2 L395.6 202.7 L394.6 204.2 L393.6 205.7 L392.6 207.2 L391.6 208.7 L390.6 210.2 L389.6 211.8 L388.6 213.3 L387.6 214.8 L386.6 216.3 L385.6 217.9 L384.6 219.4 L383.6 220.9 L382.6 222.5 L381.6 224.0 L380.6 225.5 L379.6 227.1 L378.6 228.6 L377.6 230.2 L376.6 231.7 L375.6 233.3 L374.6 234.8 L373.6 236.4 L372.6 238.0 L371.6 239.5 L370.6 241.1 L369.6 242.6 L368.6 244.2 L367.6 245.8 L366.6 247.4 L365.6 248.9 L364.6 250.5 L363.6 252.1 L362.6 253.7 L361.6 255.2 L360.6 256.8 L359.6 258.4 L358.6 260.0 L357.6 261.6 L356.6 263.1 L355.6 264.7 L354.6 266.3 L353.6 267.9 L352.6 269.5 L351.6 271.1 L350.6 272.7 L349.6 274.3 L348.6 275.9 L347.6 277.5 L346.6 279.1 L345.6 280.7 L344.6 282.3 L343.6 283.9 L342.6 285.5 L341.6 287.1 L340.6 288.7 L339.6 290.3 L338.6 291.9 L337.6 293.6 L336.6 295.2 L335.6 296.8 L334.6 298.4 L333.6 300.0 L332.6 301.6 L331.6 303.2 L330.6 304.9 L329.6 306.5 L328.6 308.1 L327.6 309.7 L326.6 311.3 L325.6 313.0 L324.6 314.6 L323.6 316.2 L322.6 317.8 L321.6 319.5 L320.6 321.1 L319.6 322.7 L318.6 324.3 L317.6 326.0 L316.6 327.6 L315.6 329.2 L314.6 330.9 L313.6 332.5 L312.6 334.1 L311.6 335.7 L310.6 337.4 L309.6 339.0 L308.6 340.6 L307.6 342.3 L306.6 343.9 L305.6 345.5 L304.6 347.2 L303.6 348.8 L302.6 350.4 L301.6 352.1 L300.6 353.7 L299.6 355.4 L298.6 357.0 L297.6 358.6 L296.6 360.3 L295.6 361.9 L294.6 363.5 L293.6 365.2 L292.6 366.8 L291.6 368.5 L290.6 370.1 L289.6 371.7 L288.6 373.4 L287.6 375.0 L286.6 376.7 L285.6 378.3 L284.6 379.9 L283.6 381.6 L282.6 383.2 L281.6 384.9 L280.6 386.5 L279.6 388.1 L278.6 389.8 L277.6 391.4 L276.6 393.1 L275.6 394.7 L274.6 396.3 L273.6 398.0 L272.6 399.6 L271.6 401.2 L270.6 402.9 L269.6 404.5 L268.6 406.2 L267.6 407.8 L266.6 409.4 L265.6 411.1 L264.6 412.7 L263.6 414.3 L262.6 416.0 L261.6 417.6 L260.6 419.3 L259.6 420.9 L258.6 422.5 L257.6 424.2 L256.6 425.8 L255.6 427.4 L254.6 429.1 L253.6 430.7 L252.6 432.3 L251.6 433.9 L250.6 435.6 L249.6 437.2 L248.6 438.8 L247.6 440.5 L246.6 442.1 L245.6 443.7 L244.6 445.3 L243.6 447.0 L242.6 448.6 L241.6 450.2 L240.6 451.8 L239.6 453.5 L238.6 455.1 L237.6 456.7 L236.6 458.3 L235.6 460.0 L234.6 461.6 L233.6 463.2 L232.6 464.8 L231.6 466.4 L230.6 468.0 L229.6 469.7 L228.6 471.3 L227.6 472.9 L226.6 474.5 L225.6 476.1 L224.6 477.7 L223.6 479.3 L222.6 480.9 L221.6 482.5 L220.6 484.1 L219.6 485.7" stroke="#000" stroke-width="2.0" fill="none" stroke-dasharray="9.8 4.8" stroke-dashoffset="-1.95" stroke-linejoin="round"/>
<path d="M565.1 78.3 L564.3 78.3 L563.3 78.3 L562.3 78.3 L561.3 78.4 L560.3 78.4 L559.3 78.4 L558.3 78.5 L557.3 78.5 L556.3 78.6 L555.3 78.6 L554.3 78.7 L553.3 78.7 L552.3 78.8 L551.3 78.9 L550.3 78.9 L549.3 79.0 L548.3 79.1 L547.3 79.2 L546.3 79.3 L545.3 79.4 L544.3 79.5 L543.3 79.6 L542.3 79.7 L541.3 79.8 L540.3 79.9 L539.3 80.0 L538.3 80.2 L537.3 80.3 L536.3 80.4 L535.3 80.6 L534.3 80.7 L533.3 80.9 L532.3 81.1 L531.3 81.2 L530.3 81.4 L529.3 81.6 L528.3 81.8 L527.3 82.0 L526.3 82.2 L525.3 82.4 L524.3 82.7 L523.3 82.9 L522.3 83.1 L521.3 83.4 L520.3 83.7 L519.3 83.9 L518.3 84.2 L517.3 84.5 L516.3 84.8 L515.3 85.1 L514.3 85.5 L513.3 85.8 L512.3 86.1 L511.3 86.5 L510.3 86.9 L509.3 87.3 L508.3 87.7 L507.3 88.1 L506.3 88.5 L505.3 88.9 L504.3 89.4 L503.3 89.9 L502.3 90.3 L501.3 90.8 L500.3 91.4 L499.3 91.9 L498.3 92.4 L497.3 93.0 L496.3 93.6 L495.3 94.2 L494.3 94.8 L493.3 95.4 L492.3 96.1 L491.3 96.7 L490.3 97.4 L489.3 98.1 L488.3 98.8 L487.3 99.6 L486.3 100.3 L485.3 101.1 L484.3 101.9 L483.3 102.7 L482.3 103.5 L481.3 104.3 L480.3 105.2 L479.3 106.1 L478.3 107.0 L477.3 107.9 L476.3 108.9 L475.3 109.8 L474.3 110.8 L473.3 111.9 L472.3 112.9 L471.3 114.0 L470.3 115.1 L469.3 116.2 L468.3 117.4 L467.3 118.5 L466.3 119.7 L465.3 120.9 L464.3 122.2 L463.3 123.4 L462.3 124.7 L461.3 126.0 L460.3 127.2 L459.3 128.5 L458.3 129.9 L457.3 131.2 L456.3 132.5 L455.3 133.8 L454.3 135.2 L453.3 136.5 L452.3 137.9 L451.3 139.2 L450.3 140.6 L449.3 142.0 L448.3 143.4 L447.3 144.9 L446.3 146.3 L445.3 147.7 L444.3 149.2 L443.3 150.7 L442.3 152.2 L441.3 153.7 L440.3 155.2 L439.3 156.7 L438.3 158.2 L437.3 159.7 L436.3 161.2 L435.3 162.8 L434.3 164.3 L433.3 165.8 L432.3 167.4 L431.3 168.9 L430.3 170.5 L429.3 172.0 L428.3 173.6 L427.3 175.2 L426.3 176.7 L425.3 178.3 L424.3 179.9 L423.3 181.4 L422.3 183.0 L421.3 184.6 L420.3 186.2 L419.3 187.8 L418.3 189.3 L417.3 190.9 L416.3 192.5 L415.3 194.1 L414.3 195.7 L413.3 197.3 L412.3 198.9 L411.3 200.5 L410.3 202.1 L409.3 203.7 L408.3 205.3 L407.3 206.9 L406.3 208.5 L405.3 210.0 L404.3 211.6 L403.3 213.2 L402.3 214.8 L401.3 216.4 L400.3 218.0 L399.3 219.6 L398.3 221.2 L397.3 222.8 L396.3 224.4 L395.3 226.0 L394.3 227.6 L393.3 229.2 L392.3 230.8 L391.3 232.4 L390.3 233.9 L389.3 235.5 L388.3 237.1 L387.3 238.7 L386.3 240.3 L385.3 241.9 L384.3 243.5 L383.3 245.0 L382.3 246.6 L381.3 248.2 L380.3 249.8 L379.3 251.4 L378.3 252.9 L377.3 254.5 L376.3 256.1 L375.3 257.6 L374.3 259.2 L373.3 260.8 L372.3 262.3 L371.3 263.9 L370.3 265.5 L369.3 267.0 L368.3 268.6 L367.3 270.2 L366.3 271.8 L365.3 273.3 L364.3 274.9 L363.3 276.5 L362.3 278.1 L361.3 279.7 L360.3 281.3 L359.3 282.9 L358.3 284.5 L357.3 286.1 L356.3 287.8 L355.3 289.4 L354.3 291.0 L353.3 292.7 L352.3 294.3 L351.3 296.0 L350.3 297.6 L349.3 299.3 L348.3 301.0 L347.3 302.7 L346.3 304.3 L345.3 306.0 L344.3 307.7 L343.3 309.4 L342.3 311.1 L341.3 312.7 L340.3 314.4 L339.3 316.1 L338.3 317.8 L337.3 319.5 L336.3 321.2 L335.3 322.9 L334.3 324.6 L333.3 326.3 L332.3 328.0 L331.3 329.7 L330.3 331.4 L329.3 333.1 L328.3 334.8 L327.3 336.5 L326.3 338.2 L325.3 339.9 L324.3 341.6 L323.3 343.3 L322.3 345.0 L321.3 346.7 L320.3 348.4 L319.3 350.1 L318.3 351.8 L317.3 353.5 L316.3 355.1 L315.3 356.8 L314.3 358.5 L313.3 360.2 L312.3 361.8 L311.3 363.5 L310.3 365.1 L309.3 366.8 L308.3 368.4 L307.3 370.1 L306.3 371.7 L305.3 373.3 L304.3 375.0 L303.3 376.6 L302.3 378.2 L301.3 379.8 L300.3 381.4 L299.3 383.1 L298.3 384.7 L297.3 386.3 L296.3 387.9 L295.3 389.5 L294.3 391.1 L293.3 392.7 L292.3 394.3 L291.3 395.9 L290.3 397.5 L289.3 399.0 L288.3 400.6 L287.3 402.2 L286.3 403.8 L285.3 405.4 L284.3 407.0 L283.3 408.5 L282.3 410.1 L281.3 411.7 L280.3 413.3 L279.3 414.9 L278.3 416.4 L277.3 418.0 L276.3 419.6 L275.3 421.1 L274.3 422.7 L273.3 424.3 L272.3 425.9 L271.3 427.4 L270.3 429.0 L269.3 430.6 L268.3 432.2 L267.3 433.7 L266.3 435.3 L265.3 436.9 L264.3 438.5 L263.3 440.1 L262.3 441.6 L261.3 443.2 L260.3 444.8 L259.3 446.4 L258.3 448.0 L257.3 449.6 L256.3 451.1 L255.3 452.7 L254.3 454.3 L253.3 455.9 L252.3 457.5 L250.6 460.2" stroke="#000" stroke-width="1.75" fill="none" stroke-dasharray="9.8 4.8" stroke-dashoffset="0" stroke-linejoin="round"/>
<path d="M563.6 78.3 L562.7 78.4 L561.7 78.5 L560.7 78.6 L559.7 78.7 L558.7 78.8 L557.7 78.9 L556.7 79.0 L555.7 79.1 L554.7 79.2 L553.7 79.3 L552.7 79.4 L551.7 79.5 L550.7 79.5 L549.7 79.6 L548.7 79.7 L547.7 79.8 L546.7 79.9 L545.7 80.0 L544.7 80.0 L543.7 80.1 L542.7 80.2 L541.7 80.3 L540.7 80.4 L539.7 80.5 L538.7 80.7 L537.7 80.8 L536.7 80.9 L535.7 81.1 L534.7 81.2 L533.7 81.4 L532.7 81.6 L531.7 81.7 L530.7 82.0 L529.7 82.2 L528.7 82.4 L527.7 82.7 L526.7 83.0 L525.7 83.3 L524.7 83.6 L523.7 84.0 L522.7 84.4 L521.7 84.8 L520.7 85.3 L519.7 85.7 L518.7 86.3 L517.7 86.8 L516.7 87.4 L515.7 88.0 L514.7 88.7 L513.7 89.4 L512.7 90.1 L511.7 90.9 L510.7 91.7 L509.7 92.6 L508.7 93.5 L507.7 94.5 L506.7 95.4 L505.7 96.5 L504.7 97.6 L503.7 98.7 L502.7 99.8 L501.7 101.0 L500.7 102.3 L499.7 103.5 L498.7 104.8 L497.7 106.2 L496.7 107.6 L495.7 109.0 L494.7 110.5 L493.7 111.9 L492.7 113.5 L491.7 115.0 L490.7 116.6 L489.7 118.2 L488.7 119.9 L487.7 121.5 L486.7 123.2 L485.7 124.9 L484.7 126.6 L483.7 128.3 L482.7 130.1 L481.7 131.8 L480.7 133.6 L479.7 135.3 L478.7 137.1 L477.7 138.8 L476.7 140.6 L475.7 142.4 L474.7 144.1 L473.7 145.9 L472.7 147.7 L471.7 149.5 L470.7 151.2 L469.7 153.0 L468.7 154.8 L467.7 156.6 L466.7 158.4 L465.7 160.2 L464.7 162.0 L463.7 163.7 L462.7 165.5 L461.7 167.3 L460.7 169.1 L459.7 170.9 L458.7 172.7 L457.7 174.5 L456.7 176.3 L455.7 178.1 L454.7 179.8 L453.7 181.6 L452.7 183.4 L451.7 185.2 L450.7 187.0 L449.7 188.7 L448.7 190.5 L447.7 192.3 L446.7 194.1 L445.7 195.8 L444.7 197.6 L443.7 199.4 L442.7 201.1 L441.7 202.9 L440.7 204.7 L439.7 206.4 L438.7 208.2 L437.7 209.9 L436.7 211.7 L435.7 213.4 L434.7 215.2 L433.7 216.9 L432.7 218.6 L431.7 220.4 L430.7 222.1 L429.7 223.9 L428.7 225.6 L427.7 227.3 L426.7 229.0 L425.7 230.8 L424.7 232.5 L423.7 234.2 L422.7 235.9 L421.7 237.6 L420.7 239.3 L419.7 241.1 L418.7 242.8 L417.7 244.5 L416.7 246.2 L415.7 247.9 L414.7 249.6 L413.7 251.3 L412.7 253.0 L411.7 254.7 L410.7 256.4 L409.7 258.0 L408.7 259.7 L407.7 261.4 L406.7 263.1 L405.7 264.8 L404.7 266.5 L403.7 268.1 L402.7 269.8 L401.7 271.5 L400.7 273.2 L399.7 274.8 L398.7 276.5 L397.7 278.2 L396.7 279.8 L395.7 281.5 L394.7 283.2 L393.7 284.8 L392.7 286.5 L391.7 288.1 L390.7 289.8 L389.7 291.5 L388.7 293.1 L387.7 294.8 L386.7 296.4 L385.7 298.1 L384.7 299.7 L383.7 301.4 L382.7 303.0 L381.7 304.7 L380.7 306.3 L379.7 307.9 L378.7 309.6 L377.7 311.2 L376.7 312.9 L375.7 314.5 L374.7 316.1 L373.7 317.8 L372.7 319.4 L371.7 321.0 L370.7 322.7 L369.7 324.3 L368.7 325.9 L367.7 327.6 L366.7 329.2 L365.7 330.8 L364.7 332.5 L363.7 334.1 L362.7 335.7 L361.7 337.3 L360.7 339.0 L359.7 340.6 L358.7 342.2 L357.7 343.8 L356.7 345.5 L355.7 347.1 L354.7 348.7 L353.7 350.3 L352.7 352.0 L351.7 353.6 L350.7 355.2 L349.7 356.8 L348.7 358.5 L347.7 360.1 L346.7 361.7 L345.7 363.3 L344.7 364.9 L343.7 366.6 L342.7 368.2 L341.7 369.8 L340.7 371.4 L339.7 373.0 L338.7 374.7 L337.7 376.3 L336.7 377.9 L335.7 379.5 L334.7 381.1 L333.7 382.8 L332.7 384.4 L331.7 386.0 L330.7 387.6 L329.7 389.3 L328.7 390.9 L327.7 392.5 L326.7 394.1 L325.7 395.8 L324.7 397.4 L323.7 399.0 L322.7 400.6 L321.7 402.3 L320.7 403.9 L319.7 405.5 L318.7 407.1 L317.7 408.8 L316.7 410.4 L315.7 412.0 L314.7 413.7 L313.7 415.3 L312.7 416.9 L311.7 418.6 L310.7 420.2 L309.7 421.8 L308.7 423.5 L307.7 425.1 L306.7 426.8 L305.7 428.4 L304.7 430.0 L303.7 431.7 L302.7 433.3 L301.7 435.0 L300.7 436.6 L299.7 438.3 L298.7 439.9 L297.7 441.6 L296.7 443.2 L295.7 444.9 L294.7 446.5 L293.7 448.2 L292.7 449.8 L291.7 451.5 L290.7 453.1 L289.7 454.8 L288.7 456.5 L287.7 458.1 L286.7 459.8 L285.7 461.5 L284.7 463.1 L283.7 464.8 L282.7 466.5" stroke="#000" stroke-width="1.75" fill="none" stroke-dasharray="9.8 4.8" stroke-dashoffset="0" stroke-linejoin="round"/>
<path d="M737.5 475.3 L738.5 473.5 L739.5 471.7 L740.5 469.9 L741.5 468.1 L742.5 466.2 L743.5 464.4 L744.5 462.5 L745.5 460.7 L746.5 458.8 L747.5 456.9 L748.5 455.0 L749.5 453.1 L750.5 451.2 L751.5 449.3 L752.5 447.3 L753.5 445.4 L754.5 443.4 L755.5 441.4 L756.5 439.4 L757.5 437.4 L758.5 435.4 L759.5 433.4 L760.5 431.4 L761.5 429.3 L762.5 427.3 L763.5 425.2 L764.5 423.1 L765.5 421.0 L766.5 418.9 L767.5 416.8 L768.5 414.7 L769.5 412.6 L770.5 410.4 L771.5 408.2 L772.5 406.1 L773.5 403.9 L774.5 401.7 L775.5 399.5 L776.5 397.2 L777.5 395.0 L778.5 392.7 L779.5 390.5 L780.5 388.2 L781.5 385.9 L782.5 383.6 L783.5 381.3 L784.5 379.0 L785.5 376.6 L786.5 374.3 L787.5 371.9 L788.5 369.5 L789.5 367.1 L790.5 364.7 L791.5 362.3 L792.5 359.8 L793.5 357.4 L794.5 354.9 L795.5 352.4 L796.5 349.9 L797.5 347.4 L798.5 344.9 L799.5 342.3 L800.5 339.8 L801.5 337.2 L802.5 334.6 L803.5 332.0 L804.5 329.4 L805.5 326.8 L806.5 324.2 L807.5 321.5 L808.5 318.8 L809.5 316.1 L810.5 313.4 L811.5 310.7 L812.5 308.0 L813.5 305.2 L814.5 302.5 L815.5 299.7 L816.5 296.9 L817.5 294.1 L818.5 291.3 L819.5 288.4 L820.5 285.6 L821.5 282.7 L822.5 279.8 L823.5 276.9 L824.5 274.0 L825.5 271.1 L826.5 268.1 L827.5 265.2 L828.5 262.2 L829.5 259.2 L830.5 256.2 L831.5 253.1 L832.5 250.1 L833.5 247.1 L834.5 244.0 L835.5 240.9 L836.5 237.8 L837.5 234.7 L838.5 231.6 L839.5 228.4 L840.5 225.2 L841.5 222.1 L842.5 218.9 L843.5 215.7 L844.5 212.5 L845.5 209.3 L846.5 206.0 L847.5 202.8 L848.5 199.5 L849.5 196.3 L850.5 193.0 L851.5 189.7 L852.5 186.4 L853.5 183.1 L854.5 179.8 L855.5 176.5 L856.5 173.2 L857.5 169.9 L858.5 166.6 L859.5 163.3 L860.5 160.0 L861.5 156.7 L862.5 153.4 L863.5 150.1 L864.5 146.9 L865.5 143.6 L866.5 140.4 L867.5 137.2 L868.5 134.0 L869.5 130.9 L870.5 127.8 L871.5 124.7 L872.5 121.7 L873.5 118.7 L874.5 115.8 L875.5 112.9 L876.5 110.1 L877.5 107.3 L878.5 104.7 L879.5 102.1 L880.5 99.6 L881.5 97.1 L882.5 94.8 L883.5 92.5 L884.5 90.4 L885.5 88.3 L886.5 86.4 L887.5 84.5 L888.5 82.7 L889.5 81.1 L890.5 79.5 L891.5 78.0 L892.5 76.7 L893.5 75.4 L894.5 74.2 L895.5 73.1 L896.5 72.1 L897.5 71.2 L898.5 70.3 L899.5 69.5 L900.5 68.8 L901.5 68.1 L902.5 67.5 L903.5 67.0 L904.5 66.5 L905.5 66.1 L906.5 65.7 L907.5 65.3 L908.5 65.0 L909.5 64.7 L910.5 64.4 L911.5 64.2 L912.5 64.0 L913.5 63.8 L914.5 63.6 L915.5 63.4 L916.5 63.3 L917.5 63.2 L918.5 63.1 L919.5 63.0 L920.5 62.9 L921.5 62.8 L922.5 62.8 L923.5 62.7 L924.5 62.7 L925.5 62.6 L926.5 62.6 L927.5 62.5 L928.5 62.5 L929.5 62.5 L930.5 62.4 L931.5 62.4 L932.5 62.4 L933.5 62.4 L934.5 62.4 L935.5 62.4 L936.5 62.3 L937.5 62.3 L938.5 62.3 L939.5 62.3 L940.5 62.3 L941.5 62.3 L942.5 62.3 L943.5 62.3 L944.5 62.3 L945.5 62.3 L946.5 62.3 L947.5 62.3 L948.5 62.3 L949.5 62.3 L950.5 62.3 L951.5 62.3 L952.5 62.3 L953.5 62.3 L954.5 62.3 L955.5 62.2 L956.5 62.2 L957.5 62.2 L958.5 62.2 L959.5 62.2 L960.5 62.2 L961.5 62.2 L962.5 62.2 L963.5 62.2 L964.5 62.2 L965.5 62.2 L966.5 62.2 L967.5 62.2 L968.5 62.2 L969.5 62.2 L970.5 62.2 L971.5 62.2 L972.5 62.2 L973.5 62.2 L974.5 62.2 L975.5 62.2 L976.5 62.2 L977.5 62.2 L978.5 62.2 L979.5 62.2 L980.5 62.2 L981.5 62.2 L982.5 62.2 L983.5 62.2 L984.5 62.2 L985.5 62.2 L986.5 62.2 L987.5 62.2 L988.5 62.2 L989.5 62.2 L990.5 62.2 L991.5 62.2 L992.5 62.2 L993.5 62.2 L994.5 62.2 L995.5 62.2 L996.5 62.2 L997.5 62.2 L998.5 62.2 L999.5 62.2 L1000.5 62.2 L1001.5 62.2 L1002.5 62.2 L1003.5 62.2 L1004.5 62.2 L1005.5 62.2 L1006.5 62.2 L1007.5 62.2 L1008.5 62.2 L1009.5 62.2 L1010.5 62.2 L1011.5 62.2 L1012.5 62.1 L1013.5 62.1 L1014.5 62.1 L1015.5 62.1 L1016.5 62.1 L1017.5 62.1 L1018.5 62.1 L1019.5 62.1 L1020.5 62.1 L1021.5 62.1 L1022.5 62.1 L1023.5 62.1 L1024.5 62.1 L1025.5 62.1 L1026.5 62.1 L1027.5 62.1 L1028.5 62.1 L1029.5 62.1 L1030.5 62.1 L1031.5 62.1 L1032.5 62.1 L1033.5 62.1 L1034.5 62.1 L1035.5 62.1 L1036.5 62.1 L1037.5 62.1 L1038.5 62.1 L1039.5 62.1 L1040.5 62.1 L1041.5 62.1 L1042.5 62.1 L1043.5 62.1 L1044.5 62.1 L1045.5 62.1 L1046.5 62.1 L1047.5 62.1 L1048.5 62.1 L1049.5 62.1 L1050.5 62.1 L1051.5 62.1 L1052.5 62.1 L1053.5 62.1 L1054.5 62.1 L1055.5 62.1 L1056.5 62.1 L1057.5 62.1 L1058.5 62.1 L1059.5 62.0 L1060.5 62.0 L1061.5 62.0 L1062.5 62.0 L1063.5 62.0 L1064.5 62.0 L1065.5 62.0 L1066.5 62.0 L1067.5 62.0 L1068.5 62.0 L1069.5 62.0 L1070.5 62.0 L1071.5 62.0 L1072.5 62.0 L1073.5 62.0 L1074.5 62.0 L1075.5 62.0 L1076.5 62.0 L1077.5 62.0 L1078.5 62.0 L1079.5 62.0 L1080.5 62.0 L1081.5 62.0 L1082.5 62.0 L1083.5 62.0 L1084.5 62.0 L1085.5 62.0 L1086.5 62.0 L1087.5 62.0 L1088.5 62.0 L1089.5 62.0 L1090.5 62.0 L1091.5 62.0 L1092.5 62.0 L1093.5 62.0 L1094.5 62.0 L1095.5 62.0 L1096.5 62.0 L1097.5 62.0 L1098.5 62.0 L1099.5 62.0 L1100.5 61.9 L1101.5 61.9 L1102.5 61.9 L1103.5 61.9 L1104.5 61.9 L1105.5 61.9 L1106.5 61.9 L1107.5 61.9 L1108.5 61.9 L1109.5 61.9 L1110.5 61.9 L1111.5 61.9 L1112.5 61.9 L1113.5 61.9 L1114.5 61.9" stroke="#000" stroke-width="1.75" fill="none" stroke-linejoin="round"/>
<path d="M770.2 423.5 L771.2 421.4 L772.2 419.4 L773.2 417.4 L774.2 415.3 L775.2 413.3 L776.2 411.3 L777.2 409.3 L778.2 407.3 L779.2 405.4 L780.2 403.4 L781.2 401.4 L782.2 399.5 L783.2 397.5 L784.2 395.6 L785.2 393.7 L786.2 391.7 L787.2 389.8 L788.2 387.9 L789.2 386.0 L790.2 384.1 L791.2 382.2 L792.2 380.3 L793.2 378.4 L794.2 376.5 L795.2 374.6 L796.2 372.7 L797.2 370.8 L798.2 368.9 L799.2 367.0 L800.2 365.1 L801.2 363.2 L802.2 361.3 L803.2 359.4 L804.2 357.5 L805.2 355.6 L806.2 353.7 L807.2 351.8 L808.2 349.9 L809.2 348.0 L810.2 346.1 L811.2 344.2 L812.2 342.3 L813.2 340.3 L814.2 338.4 L815.2 336.5 L816.2 334.5 L817.2 332.6 L818.2 330.6 L819.2 328.7 L820.2 326.7 L821.2 324.7 L822.2 322.7 L823.2 320.7 L824.2 318.7 L825.2 316.7 L826.2 314.7 L827.2 312.6 L828.2 310.6 L829.2 308.5 L830.2 306.5 L831.2 304.4 L832.2 302.3 L833.2 300.2 L834.2 298.1 L835.2 296.0 L836.2 293.9 L837.2 291.7 L838.2 289.6 L839.2 287.4 L840.2 285.2 L841.2 283.1 L842.2 280.9 L843.2 278.7 L844.2 276.4 L845.2 274.2 L846.2 272.0 L847.2 269.7 L848.2 267.4 L849.2 265.1 L850.2 262.8 L851.2 260.5 L852.2 258.2 L853.2 255.9 L854.2 253.5 L855.2 251.2 L856.2 248.8 L857.2 246.4 L858.2 244.0 L859.2 241.5 L860.2 239.1 L861.2 236.7 L862.2 234.2 L863.2 231.7 L864.2 229.2 L865.2 226.7 L866.2 224.2 L867.2 221.7 L868.2 219.1 L869.2 216.5 L870.2 213.9 L871.2 211.3 L872.2 208.7 L873.2 206.1 L874.2 203.4 L875.2 200.7 L876.2 198.0 L877.2 195.3 L878.2 192.6 L879.2 189.8 L880.2 187.1 L881.2 184.3 L882.2 181.5 L883.2 178.7 L884.2 175.9 L885.2 173.0 L886.2 170.2 L887.2 167.4 L888.2 164.5 L889.2 161.6 L890.2 158.8 L891.2 155.9 L892.2 153.1 L893.2 150.2 L894.2 147.3 L895.2 144.5 L896.2 141.6 L897.2 138.8 L898.2 136.0 L899.2 133.2 L900.2 130.4 L901.2 127.6 L902.2 124.9 L903.2 122.2 L904.2 119.5 L905.2 116.9 L906.2 114.3 L907.2 111.7 L908.2 109.2 L909.2 106.8 L910.2 104.4 L911.2 102.1 L912.2 99.8 L913.2 97.6 L914.2 95.5 L915.2 93.4 L916.2 91.4 L917.2 89.5 L918.2 87.7 L919.2 85.9 L920.2 84.3 L921.2 82.7 L922.2 81.2 L923.2 79.8 L924.2 78.4 L925.2 77.1 L926.2 76.0 L927.2 74.8 L928.2 73.8 L929.2 72.8 L930.2 71.9 L931.2 71.1 L932.2 70.3 L933.2 69.6 L934.2 68.9 L935.2 68.3 L936.2 67.8 L937.2 67.3 L938.2 66.8 L939.2 66.4 L940.2 66.0 L941.2 65.7 L942.2 65.3 L943.2 65.0 L944.2 64.8 L945.2 64.6 L946.2 64.3 L947.2 64.2 L948.2 64.0 L949.2 63.8 L950.2 63.7 L951.2 63.6 L952.2 63.5 L953.2 63.4 L954.2 63.3 L955.2 63.2 L956.2 63.1 L957.2 63.1 L958.2 63.0 L959.2 63.0 L960.2 62.9 L961.2 62.9 L962.2 62.9 L963.2 62.8 L964.2 62.8 L965.2 62.8 L966.2 62.8 L967.2 62.7 L968.2 62.7 L969.2 62.7 L970.2 62.7 L971.2 62.7 L972.2 62.7 L973.2 62.7 L974.2 62.6 L975.2 62.6 L976.2 62.6 L977.2 62.6 L978.2 62.6 L979.2 62.6 L980.2 62.6 L981.2 62.6 L982.2 62.6 L983.2 62.6 L984.2 62.6 L985.2 62.6 L986.2 62.6 L987.2 62.5 L988.2 62.5 L989.2 62.5 L990.2 62.5 L991.2 62.5 L992.2 62.5 L993.2 62.5 L994.2 62.5 L995.2 62.5 L996.2 62.5 L997.2 62.5 L998.2 62.5 L999.2 62.5 L1000.2 62.5 L1001.2 62.4 L1002.2 62.4 L1003.2 62.4 L1004.2 62.4 L1005.2 62.4 L1006.2 62.4 L1007.2 62.4 L1008.2 62.4 L1009.2 62.4 L1010.2 62.4 L1011.2 62.4 L1012.2 62.4 L1013.2 62.3 L1014.2 62.3 L1015.2 62.3 L1016.2 62.3 L1017.2 62.3 L1018.2 62.3 L1019.2 62.3 L1020.2 62.3 L1021.2 62.3 L1022.2 62.3 L1023.2 62.3 L1024.2 62.2 L1025.2 62.2 L1026.2 62.2 L1027.2 62.2 L1028.2 62.2 L1029.2 62.2 L1030.2 62.2 L1031.2 62.2 L1032.2 62.2 L1033.2 62.2 L1034.2 62.2 L1035.2 62.1 L1036.2 62.1 L1037.2 62.1 L1038.2 62.1 L1039.2 62.1 L1040.2 62.1 L1041.2 62.1 L1042.2 62.1 L1043.2 62.1 L1044.2 62.1 L1045.2 62.1 L1046.2 62.0 L1047.2 62.0 L1048.2 62.0 L1049.2 62.0 L1050.2 62.0 L1051.2 62.0 L1052.2 62.0 L1053.2 62.0 L1054.2 62.0 L1055.2 62.0 L1056.2 62.0 L1057.2 62.0 L1058.2 62.0 L1059.2 61.9 L1060.2 61.9 L1061.2 61.9 L1062.2 61.9 L1063.2 61.9 L1064.2 61.9 L1065.2 61.9 L1066.2 61.9 L1067.2 61.9 L1068.2 61.9 L1069.2 61.9 L1070.2 61.9 L1071.2 61.9 L1072.2 61.9 L1073.2 61.9 L1074.2 61.8 L1075.2 61.8 L1076.2 61.8 L1077.2 61.8 L1078.2 61.8 L1079.2 61.8 L1080.2 61.8 L1081.2 61.8 L1082.2 61.8 L1083.2 61.8 L1084.2 61.8 L1085.2 61.8 L1086.2 61.8 L1087.2 61.8 L1088.2 61.8 L1089.2 61.8 L1090.2 61.8 L1091.2 61.8 L1092.2 61.8 L1093.2 61.8 L1094.2 61.8 L1095.2 61.8 L1096.2 61.8 L1097.2 61.8 L1098.2 61.8 L1099.2 61.8 L1100.2 61.8 L1101.2 61.8 L1102.2 61.8 L1103.2 61.8 L1104.2 61.8 L1105.2 61.8 L1106.2 61.8 L1107.2 61.8 L1108.2 61.8 L1109.2 61.8 L1110.2 61.8 L1111.2 61.8 L1112.2 61.8 L1113.2 61.8 L1114.2 61.8 L1115.2 61.8 L1116.2 61.8 L1117.2 61.8 L1118.2 61.8 L1119.2 61.8 L1120.2 61.9 L1121.2 61.9 L1122.2 61.9 L1123.2 61.9 L1124.2 61.9 L1125.2 61.9 L1126.2 61.9 L1127.2 61.9 L1128.2 61.9 L1129.2 61.9 L1130.2 61.9 L1131.2 61.9 L1132.2 62.0 L1133.2 62.0 L1134.2 62.0 L1135.2 62.0 L1136.2 62.0 L1137.2 62.0 L1138.2 62.0 L1139.2 62.0 L1140.2 62.1 L1141.2 62.1 L1142.2 62.1 L1143.2 62.1 L1144.2 62.1 L1145.2 62.1 L1146.1 62.1" stroke="#000" stroke-width="1.75" fill="none" stroke-linejoin="round"/>
<path d="M801.8 368.5 L802.8 366.8 L803.8 365.2 L804.8 363.5 L805.8 361.9 L806.8 360.3 L807.8 358.6 L808.8 357.0 L809.8 355.3 L810.8 353.7 L811.8 352.0 L812.8 350.4 L813.8 348.7 L814.8 347.0 L815.8 345.4 L816.8 343.7 L817.8 342.1 L818.8 340.4 L819.8 338.7 L820.8 337.1 L821.8 335.4 L822.8 333.7 L823.8 332.0 L824.8 330.4 L825.8 328.7 L826.8 327.0 L827.8 325.3 L828.8 323.6 L829.8 321.9 L830.8 320.2 L831.8 318.5 L832.8 316.8 L833.8 315.1 L834.8 313.4 L835.8 311.6 L836.8 309.9 L837.8 308.2 L838.8 306.4 L839.8 304.7 L840.8 303.0 L841.8 301.2 L842.8 299.5 L843.8 297.7 L844.8 295.9 L845.8 294.2 L846.8 292.4 L847.8 290.6 L848.8 288.8 L849.8 287.0 L850.8 285.2 L851.8 283.4 L852.8 281.6 L853.8 279.8 L854.8 278.0 L855.8 276.2 L856.8 274.3 L857.8 272.5 L858.8 270.7 L859.8 268.8 L860.8 266.9 L861.8 265.1 L862.8 263.2 L863.8 261.3 L864.8 259.4 L865.8 257.6 L866.8 255.7 L867.8 253.7 L868.8 251.8 L869.8 249.9 L870.8 248.0 L871.8 246.0 L872.8 244.1 L873.8 242.2 L874.8 240.2 L875.8 238.2 L876.8 236.3 L877.8 234.3 L878.8 232.3 L879.8 230.3 L880.8 228.3 L881.8 226.3 L882.8 224.2 L883.8 222.2 L884.8 220.2 L885.8 218.1 L886.8 216.1 L887.8 214.0 L888.8 212.0 L889.8 209.9 L890.8 207.8 L891.8 205.7 L892.8 203.6 L893.8 201.5 L894.8 199.4 L895.8 197.3 L896.8 195.2 L897.8 193.1 L898.8 190.9 L899.8 188.8 L900.8 186.6 L901.8 184.5 L902.8 182.3 L903.8 180.2 L904.8 178.0 L905.8 175.8 L906.8 173.6 L907.8 171.5 L908.8 169.3 L909.8 167.1 L910.8 164.9 L911.8 162.7 L912.8 160.5 L913.8 158.3 L914.8 156.1 L915.8 154.0 L916.8 151.8 L917.8 149.6 L918.8 147.4 L919.8 145.2 L920.8 143.1 L921.8 140.9 L922.8 138.7 L923.8 136.6 L924.8 134.5 L925.8 132.3 L926.8 130.2 L927.8 128.1 L928.8 126.0 L929.8 124.0 L930.8 121.9 L931.8 119.9 L932.8 117.9 L933.8 115.9 L934.8 113.9 L935.8 112.0 L936.8 110.1 L937.8 108.2 L938.8 106.3 L939.8 104.5 L940.8 102.7 L941.8 101.0 L942.8 99.3 L943.8 97.6 L944.8 96.0 L945.8 94.4 L946.8 92.8 L947.8 91.3 L948.8 89.9 L949.8 88.4 L950.8 87.1 L951.8 85.7 L952.8 84.4 L953.8 83.2 L954.8 82.0 L955.8 80.9 L956.8 79.8 L957.8 78.7 L958.8 77.7 L959.8 76.8 L960.8 75.9 L961.8 75.0 L962.8 74.2 L963.8 73.4 L964.8 72.7 L965.8 72.0 L966.8 71.3 L967.8 70.7 L968.8 70.1 L969.8 69.5 L970.8 69.0 L971.8 68.5 L972.8 68.1 L973.8 67.6 L974.8 67.2 L975.8 66.9 L976.8 66.5 L977.8 66.2 L978.8 65.9 L979.8 65.6 L980.8 65.3 L981.8 65.1 L982.8 64.9 L983.8 64.7 L984.8 64.5 L985.8 64.3 L986.8 64.1 L987.8 64.0 L988.8 63.8 L989.8 63.7 L990.8 63.6 L991.8 63.5 L992.8 63.4 L993.8 63.3 L994.8 63.2 L995.8 63.1 L996.8 63.0 L997.8 63.0 L998.8 62.9 L999.8 62.8 L1000.8 62.8 L1001.8 62.7 L1002.8 62.7 L1003.8 62.7 L1004.8 62.6 L1005.8 62.6 L1006.8 62.6 L1007.8 62.5 L1008.8 62.5 L1009.8 62.5 L1010.8 62.5 L1011.8 62.4 L1012.8 62.4 L1013.8 62.4 L1014.8 62.4 L1015.8 62.4 L1016.8 62.4 L1017.8 62.4 L1018.8 62.4 L1019.8 62.3 L1020.8 62.3 L1021.8 62.3 L1022.8 62.3 L1023.8 62.3 L1024.8 62.3 L1025.8 62.3 L1026.8 62.3 L1027.8 62.3 L1028.8 62.3 L1029.8 62.3 L1030.8 62.3 L1031.8 62.3 L1032.8 62.3 L1033.8 62.3 L1034.8 62.3 L1035.8 62.3 L1036.8 62.2 L1037.8 62.2 L1038.8 62.2 L1039.8 62.2 L1040.8 62.2 L1041.8 62.2 L1042.8 62.2 L1043.8 62.2 L1044.8 62.2 L1045.8 62.2 L1046.8 62.2 L1047.8 62.2 L1048.8 62.2 L1049.8 62.2 L1050.8 62.2 L1051.8 62.2 L1052.8 62.2 L1053.8 62.2 L1054.8 62.2 L1055.8 62.2 L1056.8 62.2 L1057.8 62.2 L1058.8 62.2 L1059.8 62.2 L1060.8 62.2 L1061.8 62.2 L1062.8 62.2 L1063.8 62.2 L1064.8 62.2 L1065.8 62.2 L1066.8 62.2 L1067.8 62.2 L1068.8 62.2 L1069.8 62.2 L1070.8 62.2 L1071.8 62.2 L1072.8 62.2 L1073.8 62.2 L1074.8 62.2 L1075.8 62.1 L1076.8 62.1 L1077.8 62.1 L1078.8 62.1 L1079.8 62.1 L1080.8 62.1 L1081.8 62.1 L1082.8 62.1 L1083.8 62.1 L1084.8 62.1 L1085.8 62.1 L1086.8 62.1 L1087.8 62.1 L1088.8 62.1 L1089.8 62.1 L1090.8 62.1 L1091.8 62.1 L1092.8 62.1 L1093.8 62.1 L1094.8 62.1 L1095.8 62.1 L1096.8 62.1 L1097.8 62.1 L1098.8 62.1 L1099.8 62.1 L1100.8 62.1 L1101.8 62.1 L1102.8 62.1 L1103.8 62.1 L1104.8 62.1 L1105.8 62.1 L1106.8 62.1 L1107.8 62.1 L1108.8 62.1 L1109.8 62.1 L1110.8 62.1 L1111.8 62.1 L1112.8 62.1 L1113.8 62.1 L1114.8 62.1 L1115.8 62.1 L1116.8 62.1 L1117.8 62.0 L1118.8 62.0 L1119.8 62.0 L1120.8 62.0 L1121.8 62.0 L1122.8 62.0 L1123.8 62.0 L1124.8 62.0 L1125.8 62.0 L1126.8 62.0 L1127.8 62.0 L1128.8 62.0 L1129.8 62.0 L1130.8 62.0 L1131.8 62.0 L1132.8 62.0 L1133.8 62.0 L1134.8 62.0 L1135.8 62.0 L1136.8 62.0 L1137.8 62.0 L1138.8 62.0 L1139.8 62.0 L1140.8 62.0 L1141.8 62.0 L1142.8 62.0 L1143.8 62.0 L1144.8 62.0 L1145.8 62.0 L1146.8 62.0 L1147.8 62.0 L1148.8 62.0 L1149.8 62.0 L1150.8 62.0 L1151.8 62.0 L1152.8 62.0 L1153.8 62.0 L1154.8 62.0 L1155.8 62.0 L1156.8 62.0 L1157.8 62.0 L1158.8 62.0 L1159.8 62.0 L1160.8 62.0 L1161.8 62.0 L1162.8 62.0 L1163.8 61.9 L1164.8 61.9 L1165.8 61.9 L1166.8 61.9 L1167.8 61.9 L1168.8 61.9 L1169.8 61.9 L1170.8 61.9 L1171.8 61.9 L1172.8 61.9 L1173.8 61.9 L1174.8 61.9 L1175.8 61.9 L1176.8 61.9 L1177.7 61.9" stroke="#000" stroke-width="1.75" fill="none" stroke-linejoin="round"/>
<path d="M833.4 372.2 L834.4 370.5 L835.4 368.8 L836.4 367.0 L837.4 365.3 L838.4 363.6 L839.4 361.8 L840.4 360.1 L841.4 358.4 L842.4 356.6 L843.4 354.9 L844.4 353.2 L845.4 351.4 L846.4 349.7 L847.4 348.0 L848.4 346.2 L849.4 344.5 L850.4 342.8 L851.4 341.0 L852.4 339.3 L853.4 337.5 L854.4 335.8 L855.4 334.0 L856.4 332.3 L857.4 330.5 L858.4 328.8 L859.4 327.0 L860.4 325.3 L861.4 323.5 L862.4 321.7 L863.4 320.0 L864.4 318.2 L865.4 316.4 L866.4 314.7 L867.4 312.9 L868.4 311.1 L869.4 309.3 L870.4 307.5 L871.4 305.7 L872.4 303.9 L873.4 302.1 L874.4 300.3 L875.4 298.5 L876.4 296.7 L877.4 294.9 L878.4 293.1 L879.4 291.2 L880.4 289.4 L881.4 287.6 L882.4 285.7 L883.4 283.9 L884.4 282.1 L885.4 280.2 L886.4 278.3 L887.4 276.5 L888.4 274.6 L889.4 272.7 L890.4 270.9 L891.4 269.0 L892.4 267.1 L893.4 265.2 L894.4 263.3 L895.4 261.4 L896.4 259.5 L897.4 257.5 L898.4 255.6 L899.4 253.7 L900.4 251.7 L901.4 249.8 L902.4 247.8 L903.4 245.9 L904.4 243.9 L905.4 241.9 L906.4 240.0 L907.4 238.0 L908.4 236.0 L909.4 234.0 L910.4 232.0 L911.4 230.0 L912.4 227.9 L913.4 225.9 L914.4 223.9 L915.4 221.8 L916.4 219.8 L917.4 217.7 L918.4 215.7 L919.4 213.6 L920.4 211.5 L921.4 209.4 L922.4 207.4 L923.4 205.3 L924.4 203.1 L925.4 201.0 L926.4 198.9 L927.4 196.8 L928.4 194.7 L929.4 192.5 L930.4 190.4 L931.4 188.2 L932.4 186.1 L933.4 183.9 L934.4 181.7 L935.4 179.6 L936.4 177.4 L937.4 175.2 L938.4 173.0 L939.4 170.8 L940.4 168.6 L941.4 166.4 L942.4 164.2 L943.4 162.0 L944.4 159.8 L945.4 157.6 L946.4 155.4 L947.4 153.2 L948.4 151.0 L949.4 148.8 L950.4 146.6 L951.4 144.4 L952.4 142.2 L953.4 140.0 L954.4 137.9 L955.4 135.7 L956.4 133.5 L957.4 131.4 L958.4 129.2 L959.4 127.1 L960.4 125.0 L961.4 122.9 L962.4 120.8 L963.4 118.7 L964.4 116.7 L965.4 114.7 L966.4 112.7 L967.4 110.7 L968.4 108.8 L969.4 106.9 L970.4 105.0 L971.4 103.1 L972.4 101.3 L973.4 99.6 L974.4 97.8 L975.4 96.1 L976.4 94.5 L977.4 92.9 L978.4 91.3 L979.4 89.8 L980.4 88.3 L981.4 86.9 L982.4 85.5 L983.4 84.2 L984.4 82.9 L985.4 81.7 L986.4 80.5 L987.4 79.4 L988.4 78.3 L989.4 77.3 L990.4 76.3 L991.4 75.4 L992.4 74.5 L993.4 73.7 L994.4 72.9 L995.4 72.1 L996.4 71.4 L997.4 70.8 L998.4 70.2 L999.4 69.6 L1000.4 69.0 L1001.4 68.5 L1002.4 68.1 L1003.4 67.6 L1004.4 67.2 L1005.4 66.8 L1006.4 66.5 L1007.4 66.2 L1008.4 65.9 L1009.4 65.6 L1010.4 65.3 L1011.4 65.1 L1012.4 64.9 L1013.4 64.7 L1014.4 64.5 L1015.4 64.3 L1016.4 64.1 L1017.4 64.0 L1018.4 63.9 L1019.4 63.7 L1020.4 63.6 L1021.4 63.5 L1022.4 63.4 L1023.4 63.4 L1024.4 63.3 L1025.4 63.2 L1026.4 63.1 L1027.4 63.1 L1028.4 63.0 L1029.4 63.0 L1030.4 62.9 L1031.4 62.9 L1032.4 62.9 L1033.4 62.8 L1034.4 62.8 L1035.4 62.8 L1036.4 62.8 L1037.4 62.7 L1038.4 62.7 L1039.4 62.7 L1040.4 62.7 L1041.4 62.7 L1042.4 62.7 L1043.4 62.6 L1044.4 62.6 L1045.4 62.6 L1046.4 62.6 L1047.4 62.6 L1048.4 62.6 L1049.4 62.6 L1050.4 62.6 L1051.4 62.6 L1052.4 62.6 L1053.4 62.6 L1054.4 62.6 L1055.4 62.6 L1056.4 62.6 L1057.4 62.6 L1058.4 62.6 L1059.4 62.6 L1060.4 62.6 L1061.4 62.6 L1062.4 62.6 L1063.4 62.5 L1064.4 62.5 L1065.4 62.5 L1066.4 62.5 L1067.4 62.5 L1068.4 62.5 L1069.4 62.5 L1070.4 62.5 L1071.4 62.5 L1072.4 62.5 L1073.4 62.5 L1074.4 62.5 L1075.4 62.5 L1076.4 62.5 L1077.4 62.5 L1078.4 62.5 L1079.4 62.5 L1080.4 62.5 L1081.4 62.5 L1082.4 62.5 L1083.4 62.5 L1084.4 62.5 L1085.4 62.5 L1086.4 62.5 L1087.4 62.5 L1088.4 62.5 L1089.4 62.5 L1090.4 62.5 L1091.4 62.5 L1092.4 62.5 L1093.4 62.5 L1094.4 62.5 L1095.4 62.5 L1096.4 62.5 L1097.4 62.5 L1098.4 62.4 L1099.4 62.4 L1100.4 62.4 L1101.4 62.4 L1102.4 62.4 L1103.4 62.4 L1104.4 62.4 L1105.4 62.4 L1106.4 62.4 L1107.4 62.4 L1108.4 62.4 L1109.4 62.4 L1110.4 62.4 L1111.4 62.4 L1112.4 62.4 L1113.4 62.4 L1114.4 62.4 L1115.4 62.4 L1116.4 62.4 L1117.4 62.3 L1118.4 62.3 L1119.4 62.3 L1120.4 62.3 L1121.4 62.3 L1122.4 62.3 L1123.4 62.3 L1124.4 62.3 L1125.4 62.3 L1126.4 62.3 L1127.4 62.3 L1128.4 62.3 L1129.4 62.3 L1130.4 62.3 L1131.4 62.2 L1132.4 62.2 L1133.4 62.2 L1134.4 62.2 L1135.4 62.2 L1136.4 62.2 L1137.4 62.2 L1138.4 62.2 L1139.4 62.2 L1140.4 62.2 L1141.4 62.2 L1142.4 62.2 L1143.4 62.1 L1144.4 62.1 L1145.4 62.1 L1146.4 62.1 L1147.4 62.1 L1148.4 62.1 L1149.4 62.1 L1150.4 62.1 L1151.4 62.1 L1152.4 62.0 L1153.4 62.0 L1154.4 62.0 L1155.4 62.0 L1156.4 62.0 L1157.4 62.0 L1158.4 62.0 L1159.4 62.0 L1160.4 62.0 L1161.4 61.9 L1162.4 61.9 L1163.4 61.9 L1164.4 61.9 L1165.4 61.9 L1166.4 61.9 L1167.4 61.9 L1168.4 61.9 L1169.4 61.8 L1170.4 61.8 L1171.4 61.8 L1172.4 61.8 L1173.4 61.8 L1174.4 61.8 L1175.4 61.8 L1176.4 61.7 L1177.4 61.7 L1177.7 61.7" stroke="#000" stroke-width="1.75" fill="none" stroke-linejoin="round"/>
<path d="M1177.7 62.0 L1176.7 62.0 L1175.7 62.0 L1174.7 62.0 L1173.7 62.0 L1172.7 62.0 L1171.7 62.0 L1170.7 62.0 L1169.7 62.0 L1168.7 62.0 L1167.7 62.0 L1166.7 62.0 L1165.7 62.0 L1164.7 62.0 L1163.7 62.0 L1162.7 62.0 L1161.7 62.0 L1160.7 62.0 L1159.7 62.0 L1158.7 62.1 L1157.7 62.1 L1156.7 62.1 L1155.7 62.1 L1154.7 62.1 L1153.7 62.1 L1152.7 62.1 L1151.7 62.2 L1150.7 62.2 L1149.7 62.2 L1148.7 62.2 L1147.7 62.2 L1146.7 62.3 L1145.7 62.3 L1144.7 62.3 L1143.7 62.3 L1142.7 62.4 L1141.7 62.4 L1140.7 62.4 L1139.7 62.5 L1138.7 62.5 L1137.7 62.5 L1136.7 62.6 L1135.7 62.6 L1134.7 62.6 L1133.7 62.7 L1132.7 62.7 L1131.7 62.8 L1130.7 62.8 L1129.7 62.9 L1128.7 62.9 L1127.7 63.0 L1126.7 63.0 L1125.7 63.1 L1124.7 63.2 L1123.7 63.2 L1122.7 63.3 L1121.7 63.4 L1120.7 63.4 L1119.7 63.5 L1118.7 63.6 L1117.7 63.7 L1116.7 63.7 L1115.7 63.8 L1114.7 63.9 L1113.7 64.0 L1112.7 64.1 L1111.7 64.2 L1110.7 64.3 L1109.7 64.4 L1108.7 64.6 L1107.7 64.7 L1106.7 64.8 L1105.7 64.9 L1104.7 65.1 L1103.7 65.2 L1102.7 65.3 L1101.7 65.5 L1100.7 65.6 L1099.7 65.8 L1098.7 66.0 L1097.7 66.1 L1096.7 66.3 L1095.7 66.5 L1094.7 66.7 L1093.7 66.9 L1092.7 67.1 L1091.7 67.3 L1090.7 67.5 L1089.7 67.7 L1088.7 67.9 L1087.7 68.2 L1086.7 68.4 L1085.7 68.7 L1084.7 69.0 L1083.7 69.2 L1082.7 69.5 L1081.7 69.8 L1080.7 70.1 L1079.7 70.4 L1078.7 70.7 L1077.7 71.1 L1076.7 71.4 L1075.7 71.7 L1074.7 72.1 L1073.7 72.5 L1072.7 72.9 L1071.7 73.3 L1070.7 73.7 L1069.7 74.1 L1068.7 74.5 L1067.7 75.0 L1066.7 75.4 L1065.7 75.9 L1064.7 76.4 L1063.7 76.9 L1062.7 77.4 L1061.7 77.9 L1060.7 78.4 L1059.7 79.0 L1058.7 79.6 L1057.7 80.1 L1056.7 80.7 L1055.7 81.3 L1054.7 82.0 L1053.7 82.6 L1052.7 83.3 L1051.7 83.9 L1050.7 84.6 L1049.7 85.3 L1048.7 86.0 L1047.7 86.8 L1046.7 87.5 L1045.7 88.3 L1044.7 89.1 L1043.7 89.9 L1042.7 90.7 L1041.7 91.5 L1040.7 92.4 L1039.7 93.3 L1038.7 94.1 L1037.7 95.0 L1036.7 96.0 L1035.7 96.9 L1034.7 97.8 L1033.7 98.8 L1032.7 99.8 L1031.7 100.8 L1030.7 101.8 L1029.7 102.8 L1028.7 103.9 L1027.7 104.9 L1026.7 106.0 L1025.7 107.1 L1024.7 108.2 L1023.7 109.3 L1022.7 110.5 L1021.7 111.6 L1020.7 112.8 L1019.7 114.0 L1018.7 115.2 L1017.7 116.4 L1016.7 117.6 L1015.7 118.9 L1014.7 120.1 L1013.7 121.4 L1012.7 122.7 L1011.7 124.0 L1010.7 125.3 L1009.7 126.6 L1008.7 127.9 L1007.7 129.3 L1006.7 130.6 L1005.7 132.0 L1004.7 133.4 L1003.7 134.8 L1002.7 136.2 L1001.7 137.6 L1000.7 139.0 L999.7 140.4 L998.7 141.9 L997.7 143.3 L996.7 144.8 L995.7 146.3 L994.7 147.7 L993.7 149.2 L992.7 150.7 L991.7 152.2 L990.7 153.7 L989.7 155.3 L988.7 156.8 L987.7 158.3 L986.7 159.9 L985.7 161.4 L984.7 163.0 L983.7 164.5 L982.7 166.1 L981.7 167.7 L980.7 169.3 L979.7 170.8 L978.7 172.4 L977.7 174.0 L976.7 175.6 L975.7 177.2 L974.7 178.9 L973.7 180.5 L972.7 182.1 L971.7 183.7 L970.7 185.3 L969.7 187.0 L968.7 188.6 L967.7 190.3 L966.7 191.9 L965.7 193.6 L964.7 195.2 L963.7 196.9 L962.7 198.5 L961.7 200.2 L960.7 201.8 L959.7 203.5 L958.7 205.2 L957.7 206.8 L956.7 208.5 L955.7 210.2 L954.7 211.9 L953.7 213.6 L952.7 215.2 L951.7 216.9 L950.7 218.6 L949.7 220.3 L948.7 222.0 L947.7 223.7 L946.7 225.4 L945.7 227.1 L944.7 228.8 L943.7 230.5 L942.7 232.2 L941.7 233.9 L940.7 235.6 L939.7 237.3 L938.7 239.0 L937.7 240.7 L936.7 242.4 L935.7 244.1 L934.7 245.8 L933.7 247.5 L932.7 249.2 L931.7 250.9 L930.7 252.6 L929.7 254.3 L928.7 256.0 L927.7 257.7 L926.7 259.4 L925.7 261.2 L924.7 262.9 L923.7 264.6 L922.7 266.3 L921.7 268.0 L920.7 269.7 L919.7 271.4 L918.7 273.2 L917.7 274.9 L916.7 276.6 L915.7 278.3 L914.7 280.0 L913.7 281.7 L912.7 283.4 L911.7 285.2 L910.7 286.9 L909.7 288.6 L908.7 290.3 L907.7 292.0 L906.7 293.7 L905.7 295.5 L904.7 297.2 L903.7 298.9 L902.7 300.6 L901.7 302.3 L900.7 304.0 L899.7 305.7 L898.7 307.5 L897.7 309.2 L896.7 310.9 L895.7 312.6 L894.7 314.3 L893.7 316.0 L892.7 317.8 L891.7 319.5 L890.7 321.2 L889.7 322.9 L888.7 324.6 L887.7 326.3 L886.7 328.0 L885.7 329.8 L884.7 331.5 L883.7 333.2 L882.7 334.9 L881.7 336.6 L880.7 338.3 L879.7 340.0 L878.7 341.7 L877.7 343.5 L876.7 345.2 L875.7 346.9 L874.7 348.6 L873.7 350.3 L872.7 352.0 L871.7 353.7 L870.7 355.4 L869.7 357.2 L868.7 358.9 L867.7 360.6 L866.7 362.3 L865.7 364.0 L864.7 365.7 L863.7 367.4 L862.7 369.1 L861.7 370.8 L860.7 372.6 L859.7 374.3 L858.7 376.0 L857.7 377.7 L856.7 379.4 L855.7 381.1 L854.7 382.8 L853.7 384.5 L852.7 386.2 L851.7 387.9 L850.7 389.7 L849.7 391.4 L848.7 393.1 L847.7 394.8 L846.7 396.5 L845.7 398.2 L844.7 399.9 L843.7 401.6 L842.7 403.3 L841.7 405.0 L840.7 406.7 L839.7 408.4 L838.7 410.2 L837.7 411.9 L836.7 413.6 L835.7 415.3 L834.7 417.0 L833.7 418.7 L832.7 420.4 L831.7 422.1" stroke="#000" stroke-width="1.8" fill="none" stroke-dasharray="9.8 4.8" stroke-dashoffset="0" stroke-linejoin="round"/>
<path d="M1177.0 62.0 L1176.0 62.0 L1175.0 62.0 L1174.0 62.0 L1173.0 62.0 L1172.0 62.0 L1171.0 62.0 L1170.0 62.0 L1169.0 62.0 L1168.0 62.0 L1167.0 62.0 L1166.0 62.0 L1165.0 62.0 L1164.0 62.0 L1163.0 62.0 L1162.0 62.0 L1161.0 62.1 L1160.0 62.1 L1159.0 62.1 L1158.0 62.1 L1157.0 62.1 L1156.0 62.1 L1155.0 62.1 L1154.0 62.2 L1153.0 62.2 L1152.0 62.2 L1151.0 62.2 L1150.0 62.2 L1149.0 62.3 L1148.0 62.3 L1147.0 62.3 L1146.0 62.3 L1145.0 62.4 L1144.0 62.4 L1143.0 62.4 L1142.0 62.4 L1141.0 62.5 L1140.0 62.5 L1139.0 62.5 L1138.0 62.6 L1137.0 62.6 L1136.0 62.7 L1135.0 62.7 L1134.0 62.8 L1133.0 62.8 L1132.0 62.8 L1131.0 62.9 L1130.0 62.9 L1129.0 63.0 L1128.0 63.1 L1127.0 63.1 L1126.0 63.2 L1125.0 63.2 L1124.0 63.3 L1123.0 63.4 L1122.0 63.5 L1121.0 63.5 L1120.0 63.6 L1119.0 63.7 L1118.0 63.8 L1117.0 63.9 L1116.0 64.0 L1115.0 64.1 L1114.0 64.2 L1113.0 64.3 L1112.0 64.4 L1111.0 64.5 L1110.0 64.6 L1109.0 64.7 L1108.0 64.8 L1107.0 65.0 L1106.0 65.1 L1105.0 65.2 L1104.0 65.4 L1103.0 65.5 L1102.0 65.7 L1101.0 65.9 L1100.0 66.0 L1099.0 66.2 L1098.0 66.4 L1097.0 66.6 L1096.0 66.7 L1095.0 66.9 L1094.0 67.1 L1093.0 67.4 L1092.0 67.6 L1091.0 67.8 L1090.0 68.0 L1089.0 68.3 L1088.0 68.5 L1087.0 68.8 L1086.0 69.1 L1085.0 69.3 L1084.0 69.6 L1083.0 69.9 L1082.0 70.2 L1081.0 70.5 L1080.0 70.9 L1079.0 71.2 L1078.0 71.5 L1077.0 71.9 L1076.0 72.3 L1075.0 72.6 L1074.0 73.0 L1073.0 73.4 L1072.0 73.8 L1071.0 74.3 L1070.0 74.7 L1069.0 75.1 L1068.0 75.6 L1067.0 76.1 L1066.0 76.6 L1065.0 77.1 L1064.0 77.6 L1063.0 78.1 L1062.0 78.7 L1061.0 79.2 L1060.0 79.8 L1059.0 80.4 L1058.0 81.0 L1057.0 81.6 L1056.0 82.2 L1055.0 82.9 L1054.0 83.5 L1053.0 84.2 L1052.0 84.9 L1051.0 85.6 L1050.0 86.3 L1049.0 87.1 L1048.0 87.8 L1047.0 88.6 L1046.0 89.4 L1045.0 90.2 L1044.0 91.0 L1043.0 91.9 L1042.0 92.7 L1041.0 93.6 L1040.0 94.5 L1039.0 95.4 L1038.0 96.3 L1037.0 97.3 L1036.0 98.2 L1035.0 99.2 L1034.0 100.2 L1033.0 101.2 L1032.0 102.2 L1031.0 103.2 L1030.0 104.3 L1029.0 105.4 L1028.0 106.5 L1027.0 107.6 L1026.0 108.7 L1025.0 109.8 L1024.0 110.9 L1023.0 112.1 L1022.0 113.3 L1021.0 114.5 L1020.0 115.7 L1019.0 116.9 L1018.0 118.1 L1017.0 119.4 L1016.0 120.6 L1015.0 121.9 L1014.0 123.2 L1013.0 124.5 L1012.0 125.8 L1011.0 127.1 L1010.0 128.5 L1009.0 129.8 L1008.0 131.2 L1007.0 132.6 L1006.0 133.9 L1005.0 135.3 L1004.0 136.7 L1003.0 138.2 L1002.0 139.6 L1001.0 141.0 L1000.0 142.5 L999.0 143.9 L998.0 145.4 L997.0 146.9 L996.0 148.3 L995.0 149.8 L994.0 151.3 L993.0 152.8 L992.0 154.4 L991.0 155.9 L990.0 157.4 L989.0 158.9 L988.0 160.5 L987.0 162.0 L986.0 163.6 L985.0 165.2 L984.0 166.7 L983.0 168.3 L982.0 169.9 L981.0 171.5 L980.0 173.1 L979.0 174.7 L978.0 176.3 L977.0 177.9 L976.0 179.5 L975.0 181.1 L974.0 182.7 L973.0 184.4 L972.0 186.0 L971.0 187.6 L970.0 189.3 L969.0 190.9 L968.0 192.6 L967.0 194.2 L966.0 195.9 L965.0 197.5 L964.0 199.2 L963.0 200.8 L962.0 202.5 L961.0 204.2 L960.0 205.8 L959.0 207.5 L958.0 209.2 L957.0 210.9 L956.0 212.5 L955.0 214.2 L954.0 215.9 L953.0 217.6 L952.0 219.3 L951.0 221.0 L950.0 222.7 L949.0 224.4 L948.0 226.0 L947.0 227.7 L946.0 229.4 L945.0 231.1 L944.0 232.8 L943.0 234.5 L942.0 236.2 L941.0 237.9 L940.0 239.6 L939.0 241.3 L938.0 243.0 L937.0 244.8 L936.0 246.5 L935.0 248.2 L934.0 249.9 L933.0 251.6 L932.0 253.3 L931.0 255.0 L930.0 256.7 L929.0 258.4 L928.0 260.1 L927.0 261.8 L926.0 263.6 L925.0 265.3 L924.0 267.0 L923.0 268.7 L922.0 270.4 L921.0 272.1 L920.0 273.8 L919.0 275.6 L918.0 277.3 L917.0 279.0 L916.0 280.7 L915.0 282.4 L914.0 284.1 L913.0 285.8 L912.0 287.6 L911.0 289.3 L910.0 291.0 L909.0 292.7 L908.0 294.4 L907.0 296.1 L906.0 297.9 L905.0 299.6 L904.0 301.3 L903.0 303.0 L902.0 304.7 L901.0 306.4 L900.0 308.1 L899.0 309.9 L898.0 311.6 L897.0 313.3 L896.0 315.0 L895.0 316.7 L894.0 318.4 L893.0 320.2 L892.0 321.9 L891.0 323.6 L890.0 325.3 L889.0 327.0 L888.0 328.7 L887.0 330.4 L886.0 332.2 L885.0 333.9 L884.0 335.6 L883.0 337.3 L882.0 339.0 L881.0 340.7 L880.0 342.4 L879.0 344.1 L878.0 345.9 L877.0 347.6 L876.0 349.3 L875.0 351.0 L874.0 352.7 L873.0 354.4 L872.0 356.1 L871.0 357.8 L870.0 359.6 L869.0 361.3 L868.0 363.0 L867.0 364.7 L866.0 366.4 L865.0 368.1 L864.2 369.4" stroke="#000" stroke-width="1.8" fill="none" stroke-dasharray="9.8 4.8" stroke-dashoffset="-1.0" stroke-linejoin="round"/>
<path d="M1177.7 62.1 L1176.7 62.1 L1175.7 62.1 L1174.7 62.1 L1173.7 62.1 L1172.7 62.1 L1171.7 62.1 L1170.7 62.1 L1169.7 62.1 L1168.7 62.1 L1167.7 62.1 L1166.7 62.1 L1165.7 62.1 L1164.7 62.1 L1163.7 62.1 L1162.7 62.1 L1161.7 62.1 L1160.7 62.1 L1159.7 62.1 L1158.7 62.1 L1157.7 62.1 L1156.7 62.2 L1155.7 62.2 L1154.7 62.2 L1153.7 62.2 L1152.7 62.2 L1151.7 62.3 L1150.7 62.3 L1149.7 62.3 L1148.7 62.3 L1147.7 62.4 L1146.7 62.4 L1145.7 62.4 L1144.7 62.4 L1143.7 62.5 L1142.7 62.5 L1141.7 62.5 L1140.7 62.6 L1139.7 62.6 L1138.7 62.7 L1137.7 62.7 L1136.7 62.7 L1135.7 62.8 L1134.7 62.8 L1133.7 62.9 L1132.7 62.9 L1131.7 63.0 L1130.7 63.0 L1129.7 63.1 L1128.7 63.2 L1127.7 63.2 L1126.7 63.3 L1125.7 63.4 L1124.7 63.4 L1123.7 63.5 L1122.7 63.6 L1121.7 63.7 L1120.7 63.7 L1119.7 63.8 L1118.7 63.9 L1117.7 64.0 L1116.7 64.1 L1115.7 64.2 L1114.7 64.3 L1113.7 64.4 L1112.7 64.5 L1111.7 64.6 L1110.7 64.7 L1109.7 64.9 L1108.7 65.0 L1107.7 65.1 L1106.7 65.3 L1105.7 65.4 L1104.7 65.6 L1103.7 65.7 L1102.7 65.9 L1101.7 66.0 L1100.7 66.2 L1099.7 66.4 L1098.7 66.6 L1097.7 66.8 L1096.7 67.0 L1095.7 67.2 L1094.7 67.4 L1093.7 67.6 L1092.7 67.8 L1091.7 68.1 L1090.7 68.3 L1089.7 68.6 L1088.7 68.9 L1087.7 69.1 L1086.7 69.4 L1085.7 69.7 L1084.7 70.0 L1083.7 70.4 L1082.7 70.7 L1081.7 71.0 L1080.7 71.4 L1079.7 71.8 L1078.7 72.2 L1077.7 72.6 L1076.7 73.0 L1075.7 73.4 L1074.7 73.9 L1073.7 74.3 L1072.7 74.8 L1071.7 75.3 L1070.7 75.8 L1069.7 76.3 L1068.7 76.9 L1067.7 77.4 L1066.7 78.0 L1065.7 78.6 L1064.7 79.3 L1063.7 79.9 L1062.7 80.6 L1061.7 81.3 L1060.7 82.0 L1059.7 82.7 L1058.7 83.4 L1057.7 84.2 L1056.7 85.0 L1055.7 85.8 L1054.7 86.7 L1053.7 87.5 L1052.7 88.4 L1051.7 89.3 L1050.7 90.3 L1049.7 91.2 L1048.7 92.2 L1047.7 93.2 L1046.7 94.2 L1045.7 95.3 L1044.7 96.3 L1043.7 97.4 L1042.7 98.6 L1041.7 99.7 L1040.7 100.9 L1039.7 102.1 L1038.7 103.3 L1037.7 104.5 L1036.7 105.8 L1035.7 107.0 L1034.7 108.3 L1033.7 109.7 L1032.7 111.0 L1031.7 112.4 L1030.7 113.7 L1029.7 115.1 L1028.7 116.6 L1027.7 118.0 L1026.7 119.5 L1025.7 121.0 L1024.7 122.5 L1023.7 124.0 L1022.7 125.5 L1021.7 127.0 L1020.7 128.5 L1019.7 130.0 L1018.7 131.5 L1017.7 133.0 L1016.7 134.5 L1015.7 136.0 L1014.7 137.6 L1013.7 139.1 L1012.7 140.6 L1011.7 142.1 L1010.7 143.6 L1009.7 145.2 L1008.7 146.7 L1007.7 148.3 L1006.7 149.9 L1005.7 151.5 L1004.7 153.2 L1003.7 154.9 L1002.7 156.6 L1001.7 158.3 L1000.7 160.0 L999.7 161.8 L998.7 163.5 L997.7 165.3 L996.7 167.1 L995.7 168.9 L994.7 170.7 L993.7 172.6 L992.7 174.4 L991.7 176.2 L990.7 178.1 L989.7 179.9 L988.7 181.7 L987.7 183.6 L986.7 185.4 L985.7 187.2 L984.7 189.0 L983.7 190.9 L982.7 192.7 L981.7 194.5 L980.7 196.3 L979.7 198.1 L978.7 199.9 L977.7 201.8 L976.7 203.6 L975.7 205.4 L974.7 207.2 L973.7 209.0 L972.7 210.8 L971.7 212.6 L970.7 214.4 L969.7 216.1 L968.7 217.9 L967.7 219.7 L966.7 221.5 L965.7 223.3 L964.7 225.1 L963.7 226.9 L962.7 228.7 L961.7 230.4 L960.7 232.2 L959.7 234.0 L958.7 235.8 L957.7 237.6 L956.7 239.4 L955.7 241.1 L954.7 242.9 L953.7 244.7 L952.7 246.5 L951.7 248.3 L950.7 250.1 L949.7 251.8 L948.7 253.6 L947.7 255.4 L946.7 257.2 L945.7 258.9 L944.7 260.7 L943.7 262.5 L942.7 264.3 L941.7 266.0 L940.7 267.8 L939.7 269.6 L938.7 271.3 L937.7 273.1 L936.7 274.9 L935.7 276.6 L934.7 278.4 L933.7 280.1 L932.7 281.9 L931.7 283.6 L930.7 285.4 L929.7 287.1 L928.7 288.8 L927.7 290.6 L926.7 292.3 L925.7 294.0 L924.7 295.7 L923.7 297.4 L922.7 299.1 L921.7 300.8 L920.7 302.5 L919.7 304.2 L918.7 305.9 L917.7 307.6 L916.7 309.3 L915.7 311.0 L914.7 312.6 L913.7 314.3 L912.7 315.9 L911.7 317.6 L910.7 319.2 L909.7 320.9 L908.7 322.5 L907.7 324.1 L906.7 325.8 L905.7 327.4 L904.7 329.0 L903.7 330.6 L902.7 332.2 L901.7 333.8 L900.7 335.3 L899.7 336.9 L898.7 338.5 L897.7 340.0 L896.7 341.6 L895.7 343.1" stroke="#000" stroke-width="1.75" fill="none" stroke-dasharray="9.8 4.8" stroke-dashoffset="0" stroke-linejoin="round"/>
<path d="M1177.7 62.3 L1177.3 62.3 L1176.3 62.3 L1175.3 62.3 L1174.3 62.3 L1173.3 62.3 L1172.3 62.3 L1171.3 62.4 L1170.3 62.4 L1169.3 62.4 L1168.3 62.4 L1167.3 62.4 L1166.3 62.4 L1165.3 62.4 L1164.3 62.5 L1163.3 62.5 L1162.3 62.5 L1161.3 62.5 L1160.3 62.5 L1159.3 62.5 L1158.3 62.5 L1157.3 62.5 L1156.3 62.6 L1155.3 62.6 L1154.3 62.6 L1153.3 62.6 L1152.3 62.6 L1151.3 62.6 L1150.3 62.6 L1149.3 62.6 L1148.3 62.6 L1147.3 62.7 L1146.3 62.7 L1145.3 62.7 L1144.3 62.7 L1143.3 62.7 L1142.3 62.7 L1141.3 62.7 L1140.3 62.7 L1139.3 62.8 L1138.3 62.8 L1137.3 62.8 L1136.3 62.8 L1135.3 62.8 L1134.3 62.9 L1133.3 62.9 L1132.3 62.9 L1131.3 62.9 L1130.3 63.0 L1129.3 63.0 L1128.3 63.0 L1127.3 63.1 L1126.3 63.1 L1125.3 63.2 L1124.3 63.2 L1123.3 63.3 L1122.3 63.3 L1121.3 63.4 L1120.3 63.5 L1119.3 63.6 L1118.3 63.6 L1117.3 63.7 L1116.3 63.8 L1115.3 64.0 L1114.3 64.1 L1113.3 64.2 L1112.3 64.4 L1111.3 64.5 L1110.3 64.7 L1109.3 64.9 L1108.3 65.1 L1107.3 65.3 L1106.3 65.6 L1105.3 65.9 L1104.3 66.1 L1103.3 66.4 L1102.3 66.8 L1101.3 67.1 L1100.3 67.5 L1099.3 67.9 L1098.3 68.4 L1097.3 68.8 L1096.3 69.3 L1095.3 69.9 L1094.3 70.4 L1093.3 71.0 L1092.3 71.7 L1091.3 72.4 L1090.3 73.1 L1089.3 73.8 L1088.3 74.7 L1087.3 75.5 L1086.3 76.4 L1085.3 77.3 L1084.3 78.3 L1083.3 79.4 L1082.3 80.4 L1081.3 81.6 L1080.3 82.7 L1079.3 84.0 L1078.3 85.2 L1077.3 86.6 L1076.3 87.9 L1075.3 89.3 L1074.3 90.8 L1073.3 92.3 L1072.3 93.9 L1071.3 95.5 L1070.3 97.1 L1069.3 98.8 L1068.3 100.5 L1067.3 102.3 L1066.3 104.1 L1065.3 106.0 L1064.3 107.8 L1063.3 109.8 L1062.3 111.7 L1061.3 113.7 L1060.3 115.7 L1059.3 117.7 L1058.3 119.8 L1057.3 121.9 L1056.3 124.0 L1055.3 126.1 L1054.3 128.2 L1053.3 130.4 L1052.3 132.6 L1051.3 134.7 L1050.3 136.9 L1049.3 139.1 L1048.3 141.4 L1047.3 143.6 L1046.3 145.8 L1045.3 148.1 L1044.3 150.3 L1043.3 152.5 L1042.3 154.8 L1041.3 157.0 L1040.3 159.3 L1039.3 161.5 L1038.3 163.8 L1037.3 166.0 L1036.3 168.2 L1035.3 170.5 L1034.3 172.7 L1033.3 174.9 L1032.3 177.1 L1031.3 179.3 L1030.3 181.5 L1029.3 183.7 L1028.3 185.9 L1027.3 188.1 L1026.3 190.3 L1025.3 192.4 L1024.3 194.6 L1023.3 196.7 L1022.3 198.8 L1021.3 201.0 L1020.3 203.1 L1019.3 205.2 L1018.3 207.3 L1017.3 209.3 L1016.3 211.4 L1015.3 213.5 L1014.3 215.5 L1013.3 217.5 L1012.3 219.6 L1011.3 221.6 L1010.3 223.6 L1009.3 225.6 L1008.3 227.6 L1007.3 229.5 L1006.3 231.5 L1005.3 233.4 L1004.3 235.4 L1003.3 237.3 L1002.3 239.2 L1001.3 241.2 L1000.3 243.1 L999.3 245.0 L998.3 246.9 L997.3 248.7 L996.3 250.6 L995.3 252.5 L994.3 254.3 L993.3 256.2 L992.3 258.0 L991.3 259.8 L990.3 261.6 L989.3 263.5 L988.3 265.3 L987.3 267.1 L986.3 268.9 L985.3 270.7 L984.3 272.4 L983.3 274.2 L982.3 276.0 L981.3 277.8 L980.3 279.5 L979.3 281.3 L978.3 283.1 L977.3 284.8 L976.3 286.6 L975.3 288.3 L974.3 290.0 L973.3 291.8 L972.3 293.5 L971.3 295.3 L970.3 297.0 L969.3 298.7 L968.3 300.5 L967.3 302.2 L966.3 303.9 L965.3 305.6 L964.3 307.4 L963.3 309.1 L962.3 310.8 L961.3 312.6 L960.3 314.3 L959.3 316.0 L958.3 317.8 L957.3 319.5 L956.3 321.3 L955.3 323.0 L954.3 324.8 L953.3 326.5 L952.3 328.3 L951.3 330.0 L950.3 331.8 L949.3 333.6 L948.3 335.3 L947.3 337.1 L946.3 338.9 L945.3 340.7 L944.3 342.5 L943.3 344.3 L942.3 346.1 L941.3 347.9 L940.3 349.8 L939.3 351.6 L938.3 353.4 L937.3 355.3 L936.3 357.2 L935.3 359.0 L934.3 360.9 L933.3 362.8 L932.3 364.7 L931.3 366.6 L930.3 368.5 L929.3 370.5 L928.3 372.4" stroke="#000" stroke-width="1.75" fill="none" stroke-dasharray="9.8 4.8" stroke-dashoffset="0" stroke-linejoin="round"/>
<path d="M122.7 485.4L392.5 46.4" stroke="#000" stroke-width="1.9" fill="none" stroke-dasharray="1.5 1.96"/>
<path d="M216.0 488.0L488.3 45.1" stroke="#000" stroke-width="1.9" fill="none" stroke-dasharray="1.5 1.96"/>
<path d="M735.2 484.6L995.6 29.1" stroke="#000" stroke-width="1.9" fill="none" stroke-dasharray="1.5 1.96"/>
<path d="M861.6 369.0L1055.9 29.1" stroke="#000" stroke-width="1.9" fill="none" stroke-dasharray="1.5 1.96"/>
<polygon points="138.1,454.5 145.6,462.0 138.1,469.5 130.6,462.0" fill="none" stroke="#000" stroke-width="1.0"/>
<polygon points="169.7,401.0 177.2,408.5 169.7,416.0 162.2,408.5" fill="none" stroke="#000" stroke-width="1.0"/>
<polygon points="201.3,348.0 208.8,355.5 201.3,363.0 193.8,355.5" fill="none" stroke="#000" stroke-width="1.0"/>
<polygon points="232.9,292.5 240.4,300.0 232.9,307.5 225.4,300.0" fill="none" stroke="#000" stroke-width="1.0"/>
<polygon points="264.5,229.5 272.0,237.0 264.5,244.5 257.0,237.0" fill="none" stroke="#000" stroke-width="1.0"/>
<polygon points="296.1,154.9 303.6,162.4 296.1,169.9 288.6,162.4" fill="none" stroke="#000" stroke-width="1.0"/>
<polygon points="327.7,86.1 335.2,93.6 327.7,101.1 320.2,93.6" fill="none" stroke="#000" stroke-width="1.0"/>
<polygon points="359.3,70.9 366.8,78.4 359.3,85.9 351.8,78.4" fill="none" stroke="#000" stroke-width="1.0"/>
<polygon points="390.9,69.4 398.4,76.9 390.9,84.4 383.4,76.9" fill="none" stroke="#000" stroke-width="1.0"/>
<polygon points="422.5,69.1 430.0,76.6 422.5,84.1 415.0,76.6" fill="none" stroke="#000" stroke-width="1.0"/>
<polygon points="454.1,69.1 461.6,76.6 454.1,84.1 446.6,76.6" fill="none" stroke="#000" stroke-width="1.0"/>
<polygon points="485.7,69.1 493.2,76.6 485.7,84.1 478.2,76.6" fill="none" stroke="#000" stroke-width="1.0"/>
<polygon points="151.4,433.5 162.3,440.0 151.4,446.5" fill="none" stroke="#000" stroke-width="1.0"/>
<polygon points="183.0,381.3 193.9,387.8 183.0,394.3" fill="none" stroke="#000" stroke-width="1.0"/>
<polygon points="214.6,329.1 225.5,335.6 214.6,342.1" fill="none" stroke="#000" stroke-width="1.0"/>
<polygon points="246.2,276.9 257.1,283.4 246.2,289.9" fill="none" stroke="#000" stroke-width="1.0"/>
<polygon points="277.8,218.1 288.7,224.6 277.8,231.1" fill="none" stroke="#000" stroke-width="1.0"/>
<polygon points="309.4,152.1 320.3,158.6 309.4,165.1" fill="none" stroke="#000" stroke-width="1.0"/>
<polygon points="341.0,91.2 351.9,97.7 341.0,104.2" fill="none" stroke="#000" stroke-width="1.0"/>
<polygon points="372.6,73.7 383.5,80.2 372.6,86.7" fill="none" stroke="#000" stroke-width="1.0"/>
<polygon points="404.2,71.1 415.1,77.6 404.2,84.1" fill="none" stroke="#000" stroke-width="1.0"/>
<polygon points="435.8,70.3 446.7,76.8 435.8,83.3" fill="none" stroke="#000" stroke-width="1.0"/>
<polygon points="467.4,70.1 478.3,76.6 467.4,83.1" fill="none" stroke="#000" stroke-width="1.0"/>
<polygon points="499.0,70.1 509.9,76.6 499.0,83.1" fill="none" stroke="#000" stroke-width="1.0"/>
<polygon points="174.9,414.3 164.0,420.8 174.9,427.3" fill="none" stroke="#000" stroke-width="1.0"/>
<polygon points="206.5,362.7 195.6,369.2 206.5,375.7" fill="none" stroke="#000" stroke-width="1.0"/>
<polygon points="238.1,311.0 227.2,317.5 238.1,324.0" fill="none" stroke="#000" stroke-width="1.0"/>
<polygon points="269.7,258.3 258.8,264.8 269.7,271.3" fill="none" stroke="#000" stroke-width="1.0"/>
<polygon points="301.3,204.7 290.4,211.2 301.3,217.7" fill="none" stroke="#000" stroke-width="1.0"/>
<polygon points="332.9,148.9 322.0,155.4 332.9,161.9" fill="none" stroke="#000" stroke-width="1.0"/>
<polygon points="364.5,98.2 353.6,104.7 364.5,111.2" fill="none" stroke="#000" stroke-width="1.0"/>
<polygon points="396.1,75.5 385.2,82.0 396.1,88.5" fill="none" stroke="#000" stroke-width="1.0"/>
<polygon points="427.7,72.3 416.8,78.8 427.7,85.3" fill="none" stroke="#000" stroke-width="1.0"/>
<polygon points="459.3,70.9 448.4,77.4 459.3,83.9" fill="none" stroke="#000" stroke-width="1.0"/>
<polygon points="490.9,70.3 480.0,76.8 490.9,83.3" fill="none" stroke="#000" stroke-width="1.0"/>
<polygon points="522.5,70.1 511.6,76.6 522.5,83.1" fill="none" stroke="#000" stroke-width="1.0"/>
<polygon points="179.5,407.2 192.5,407.2 186.0,418.1" fill="none" stroke="#000" stroke-width="1.0"/>
<polygon points="211.1,356.4 224.1,356.4 217.6,367.3" fill="none" stroke="#000" stroke-width="1.0"/>
<polygon points="242.7,305.7 255.7,305.7 249.2,316.6" fill="none" stroke="#000" stroke-width="1.0"/>
<polygon points="274.3,254.2 287.3,254.2 280.8,265.1" fill="none" stroke="#000" stroke-width="1.0"/>
<polygon points="305.9,203.6 318.9,203.6 312.4,214.5" fill="none" stroke="#000" stroke-width="1.0"/>
<polygon points="337.5,153.8 350.5,153.8 344.0,164.7" fill="none" stroke="#000" stroke-width="1.0"/>
<polygon points="369.1,110.9 382.1,110.9 375.6,121.8" fill="none" stroke="#000" stroke-width="1.0"/>
<polygon points="400.7,87.8 413.7,87.8 407.2,98.7" fill="none" stroke="#000" stroke-width="1.0"/>
<polygon points="432.3,79.7 445.3,79.7 438.8,90.6" fill="none" stroke="#000" stroke-width="1.0"/>
<polygon points="463.9,76.0 476.9,76.0 470.4,86.9" fill="none" stroke="#000" stroke-width="1.0"/>
<polygon points="495.5,73.9 508.5,73.9 502.0,84.8" fill="none" stroke="#000" stroke-width="1.0"/>
<polygon points="527.1,73.2 540.1,73.2 533.6,84.1" fill="none" stroke="#000" stroke-width="1.0"/>
<circle cx="217.6" cy="485.8" r="7.4" fill="none" stroke="#000" stroke-width="1.0"/>
<circle cx="249.2" cy="434.4" r="7.4" fill="none" stroke="#000" stroke-width="1.0"/>
<circle cx="280.8" cy="383.0" r="7.4" fill="none" stroke="#000" stroke-width="1.0"/>
<circle cx="312.4" cy="331.5" r="7.4" fill="none" stroke="#000" stroke-width="1.0"/>
<circle cx="344.0" cy="279.5" r="7.4" fill="none" stroke="#000" stroke-width="1.0"/>
<circle cx="375.6" cy="230.5" r="7.4" fill="none" stroke="#000" stroke-width="1.0"/>
<circle cx="407.2" cy="182.5" r="7.4" fill="none" stroke="#000" stroke-width="1.0"/>
<circle cx="438.8" cy="139.2" r="7.4" fill="none" stroke="#000" stroke-width="1.0"/>
<circle cx="470.4" cy="106.2" r="7.4" fill="none" stroke="#000" stroke-width="1.0"/>
<circle cx="502.0" cy="88.2" r="7.4" fill="none" stroke="#000" stroke-width="1.0"/>
<circle cx="533.6" cy="80.5" r="7.4" fill="none" stroke="#000" stroke-width="1.0"/>
<circle cx="565.2" cy="78.3" r="7.4" fill="none" stroke="#000" stroke-width="1.0"/>
<polygon points="241.5,443.8 254.5,443.8 248.0,432.9" fill="none" stroke="#000" stroke-width="1.0"/>
<polygon points="273.1,392.1 286.1,392.1 279.6,381.2" fill="none" stroke="#000" stroke-width="1.0"/>
<polygon points="304.7,340.4 317.7,340.4 311.2,329.5" fill="none" stroke="#000" stroke-width="1.0"/>
<polygon points="336.3,289.2 349.3,289.2 342.8,278.3" fill="none" stroke="#000" stroke-width="1.0"/>
<polygon points="367.9,239.2 380.9,239.2 374.4,228.3" fill="none" stroke="#000" stroke-width="1.0"/>
<polygon points="399.5,191.4 412.5,191.4 406.0,180.5" fill="none" stroke="#000" stroke-width="1.0"/>
<polygon points="431.1,148.0 444.1,148.0 437.6,137.1" fill="none" stroke="#000" stroke-width="1.0"/>
<polygon points="462.7,113.9 475.7,113.9 469.2,103.0" fill="none" stroke="#000" stroke-width="1.0"/>
<polygon points="494.3,94.4 507.3,94.4 500.8,83.5" fill="none" stroke="#000" stroke-width="1.0"/>
<polygon points="525.9,86.6 538.9,86.6 532.4,75.7" fill="none" stroke="#000" stroke-width="1.0"/>
<polygon points="557.5,84.0 570.5,84.0 564.0,73.1" fill="none" stroke="#000" stroke-width="1.0"/>
<polygon points="274.2,409.2 287.2,409.2 280.7,420.1" fill="none" stroke="#000" stroke-width="1.0"/>
<polygon points="305.8,357.7 318.8,357.7 312.3,368.6" fill="none" stroke="#000" stroke-width="1.0"/>
<polygon points="337.4,306.2 350.4,306.2 343.9,317.1" fill="none" stroke="#000" stroke-width="1.0"/>
<polygon points="369.0,254.6 382.0,254.6 375.5,265.5" fill="none" stroke="#000" stroke-width="1.0"/>
<polygon points="400.6,203.0 413.6,203.0 407.1,213.9" fill="none" stroke="#000" stroke-width="1.0"/>
<polygon points="432.2,153.6 445.2,153.6 438.7,164.5" fill="none" stroke="#000" stroke-width="1.0"/>
<polygon points="463.8,111.0 476.8,111.0 470.3,121.9" fill="none" stroke="#000" stroke-width="1.0"/>
<polygon points="495.4,86.7 508.4,86.7 501.9,97.6" fill="none" stroke="#000" stroke-width="1.0"/>
<polygon points="527.0,77.2 540.0,77.2 533.5,88.1" fill="none" stroke="#000" stroke-width="1.0"/>
<polygon points="558.6,74.7 571.6,74.7 565.1,85.6" fill="none" stroke="#000" stroke-width="1.0"/>
<polygon points="314.4,413.8 303.5,420.3 314.4,426.8" fill="none" stroke="#000" stroke-width="1.0"/>
<polygon points="346.0,362.4 335.1,368.9 346.0,375.4" fill="none" stroke="#000" stroke-width="1.0"/>
<polygon points="377.6,310.5 366.7,317.0 377.6,323.5" fill="none" stroke="#000" stroke-width="1.0"/>
<polygon points="409.2,258.3 398.3,264.8 409.2,271.3" fill="none" stroke="#000" stroke-width="1.0"/>
<polygon points="440.8,204.3 429.9,210.8 440.8,217.3" fill="none" stroke="#000" stroke-width="1.0"/>
<polygon points="472.4,148.3 461.5,154.8 472.4,161.3" fill="none" stroke="#000" stroke-width="1.0"/>
<polygon points="504.0,97.3 493.1,103.8 504.0,110.3" fill="none" stroke="#000" stroke-width="1.0"/>
<polygon points="535.6,74.8 524.7,81.3 535.6,87.8" fill="none" stroke="#000" stroke-width="1.0"/>
<polygon points="567.2,71.8 556.3,78.3 567.2,84.8" fill="none" stroke="#000" stroke-width="1.0"/>
<polygon points="766.9,410.3 774.4,417.8 766.9,425.3 759.4,417.8" fill="none" stroke="#000" stroke-width="1.0"/>
<polygon points="798.5,337.6 806.0,345.1 798.5,352.6 791.0,345.1" fill="none" stroke="#000" stroke-width="1.0"/>
<polygon points="830.1,249.7 837.6,257.2 830.1,264.7 822.6,257.2" fill="none" stroke="#000" stroke-width="1.0"/>
<polygon points="861.7,149.2 869.2,156.7 861.7,164.2 854.2,156.7" fill="none" stroke="#000" stroke-width="1.0"/>
<polygon points="893.3,67.7 900.8,75.2 893.3,82.7 885.8,75.2" fill="none" stroke="#000" stroke-width="1.0"/>
<polygon points="924.9,55.3 932.4,62.8 924.9,70.3 917.4,62.8" fill="none" stroke="#000" stroke-width="1.0"/>
<polygon points="956.5,54.5 964.0,62.0 956.5,69.5 949.0,62.0" fill="none" stroke="#000" stroke-width="1.0"/>
<polygon points="988.1,54.5 995.6,62.0 988.1,69.5 980.6,62.0" fill="none" stroke="#000" stroke-width="1.0"/>
<polygon points="1019.7,54.5 1027.2,62.0 1019.7,69.5 1012.2,62.0" fill="none" stroke="#000" stroke-width="1.0"/>
<polygon points="1051.3,54.5 1058.8,62.0 1051.3,69.5 1043.8,62.0" fill="none" stroke="#000" stroke-width="1.0"/>
<polygon points="1082.9,54.5 1090.4,62.0 1082.9,69.5 1075.4,62.0" fill="none" stroke="#000" stroke-width="1.0"/>
<polygon points="1114.5,54.5 1122.0,62.0 1114.5,69.5 1107.0,62.0" fill="none" stroke="#000" stroke-width="1.0"/>
<polygon points="794.9,361.1 805.8,367.6 794.9,374.1" fill="none" stroke="#000" stroke-width="1.0"/>
<polygon points="826.5,298.9 837.4,305.4 826.5,311.9" fill="none" stroke="#000" stroke-width="1.0"/>
<polygon points="858.1,227.4 869.0,233.9 858.1,240.4" fill="none" stroke="#000" stroke-width="1.0"/>
<polygon points="889.7,141.9 900.6,148.4 889.7,154.9" fill="none" stroke="#000" stroke-width="1.0"/>
<polygon points="921.3,69.8 932.2,76.3 921.3,82.8" fill="none" stroke="#000" stroke-width="1.0"/>
<polygon points="952.9,56.3 963.8,62.8 952.9,69.3" fill="none" stroke="#000" stroke-width="1.0"/>
<polygon points="984.5,55.5 995.4,62.0 984.5,68.5" fill="none" stroke="#000" stroke-width="1.0"/>
<polygon points="1016.1,55.5 1027.0,62.0 1016.1,68.5" fill="none" stroke="#000" stroke-width="1.0"/>
<polygon points="1047.7,55.5 1058.6,62.0 1047.7,68.5" fill="none" stroke="#000" stroke-width="1.0"/>
<polygon points="1079.3,55.5 1090.2,62.0 1079.3,68.5" fill="none" stroke="#000" stroke-width="1.0"/>
<polygon points="1110.9,55.5 1121.8,62.0 1110.9,68.5" fill="none" stroke="#000" stroke-width="1.0"/>
<polygon points="1142.5,55.5 1153.4,62.0 1142.5,68.5" fill="none" stroke="#000" stroke-width="1.0"/>
<polygon points="833.7,315.2 822.8,321.7 833.7,328.2" fill="none" stroke="#000" stroke-width="1.0"/>
<polygon points="865.3,258.3 854.4,264.8 865.3,271.3" fill="none" stroke="#000" stroke-width="1.0"/>
<polygon points="896.9,195.4 886.0,201.9 896.9,208.4" fill="none" stroke="#000" stroke-width="1.0"/>
<polygon points="928.5,127.1 917.6,133.6 928.5,140.1" fill="none" stroke="#000" stroke-width="1.0"/>
<polygon points="960.1,73.4 949.2,79.9 960.1,86.4" fill="none" stroke="#000" stroke-width="1.0"/>
<polygon points="991.7,57.4 980.8,63.9 991.7,70.4" fill="none" stroke="#000" stroke-width="1.0"/>
<polygon points="1023.3,55.7 1012.4,62.2 1023.3,68.7" fill="none" stroke="#000" stroke-width="1.0"/>
<polygon points="1054.9,55.5 1044.0,62.0 1054.9,68.5" fill="none" stroke="#000" stroke-width="1.0"/>
<polygon points="1086.5,55.5 1075.6,62.0 1086.5,68.5" fill="none" stroke="#000" stroke-width="1.0"/>
<polygon points="1118.1,55.5 1107.2,62.0 1118.1,68.5" fill="none" stroke="#000" stroke-width="1.0"/>
<polygon points="1149.7,55.5 1138.8,62.0 1149.7,68.5" fill="none" stroke="#000" stroke-width="1.0"/>
<polygon points="1181.3,55.5 1170.4,62.0 1181.3,68.5" fill="none" stroke="#000" stroke-width="1.0"/>
<polygon points="855.2,319.4 868.2,319.4 861.7,330.3" fill="none" stroke="#000" stroke-width="1.0"/>
<polygon points="886.8,261.7 899.8,261.7 893.3,272.6" fill="none" stroke="#000" stroke-width="1.0"/>
<polygon points="918.4,198.3 931.4,198.3 924.9,209.2" fill="none" stroke="#000" stroke-width="1.0"/>
<polygon points="950.0,131.2 963.0,131.2 956.5,142.1" fill="none" stroke="#000" stroke-width="1.0"/>
<polygon points="981.6,75.0 994.6,75.0 988.1,85.9" fill="none" stroke="#000" stroke-width="1.0"/>
<polygon points="1013.2,60.5 1026.2,60.5 1019.7,71.4" fill="none" stroke="#000" stroke-width="1.0"/>
<polygon points="1044.8,58.8 1057.8,58.8 1051.3,69.7" fill="none" stroke="#000" stroke-width="1.0"/>
<polygon points="1076.4,58.4 1089.4,58.4 1082.9,69.3" fill="none" stroke="#000" stroke-width="1.0"/>
<polygon points="1108.0,58.4 1121.0,58.4 1114.5,69.3" fill="none" stroke="#000" stroke-width="1.0"/>
<polygon points="1139.6,58.4 1152.6,58.4 1146.1,69.3" fill="none" stroke="#000" stroke-width="1.0"/>
<polygon points="1171.2,58.4 1184.2,58.4 1177.7,69.3" fill="none" stroke="#000" stroke-width="1.0"/>
<circle cx="861.7" cy="372.1" r="7.4" fill="none" stroke="#000" stroke-width="1.0"/>
<circle cx="893.3" cy="316.7" r="7.4" fill="none" stroke="#000" stroke-width="1.0"/>
<circle cx="924.9" cy="262.2" r="7.4" fill="none" stroke="#000" stroke-width="1.0"/>
<circle cx="956.5" cy="207.5" r="7.4" fill="none" stroke="#000" stroke-width="1.0"/>
<circle cx="988.1" cy="157.7" r="7.4" fill="none" stroke="#000" stroke-width="1.0"/>
<circle cx="1019.7" cy="114.8" r="7.4" fill="none" stroke="#000" stroke-width="1.0"/>
<circle cx="1051.3" cy="85.2" r="7.4" fill="none" stroke="#000" stroke-width="1.0"/>
<circle cx="1082.9" cy="69.4" r="7.4" fill="none" stroke="#000" stroke-width="1.0"/>
<circle cx="1114.5" cy="63.9" r="7.4" fill="none" stroke="#000" stroke-width="1.0"/>
<circle cx="1146.1" cy="62.4" r="7.4" fill="none" stroke="#000" stroke-width="1.0"/>
<circle cx="1177.7" cy="62.1" r="7.4" fill="none" stroke="#000" stroke-width="1.0"/>
<polygon points="885.6,325.8 898.6,325.8 892.1,314.9" fill="none" stroke="#000" stroke-width="1.0"/>
<polygon points="917.2,271.6 930.2,271.6 923.7,260.7" fill="none" stroke="#000" stroke-width="1.0"/>
<polygon points="948.8,217.8 961.8,217.8 955.3,206.9" fill="none" stroke="#000" stroke-width="1.0"/>
<polygon points="980.4,166.4 993.4,166.4 986.9,155.5" fill="none" stroke="#000" stroke-width="1.0"/>
<polygon points="1012.0,122.0 1025.0,122.0 1018.5,111.1" fill="none" stroke="#000" stroke-width="1.0"/>
<polygon points="1043.6,91.2 1056.6,91.2 1050.1,80.3" fill="none" stroke="#000" stroke-width="1.0"/>
<polygon points="1075.2,75.7 1088.2,75.7 1081.7,64.8" fill="none" stroke="#000" stroke-width="1.0"/>
<polygon points="1106.8,69.8 1119.8,69.8 1113.3,58.9" fill="none" stroke="#000" stroke-width="1.0"/>
<polygon points="1138.4,68.0 1151.4,68.0 1144.9,57.1" fill="none" stroke="#000" stroke-width="1.0"/>
<polygon points="1170.0,67.6 1183.0,67.6 1176.5,56.7" fill="none" stroke="#000" stroke-width="1.0"/>
<polygon points="918.4,291.8 931.4,291.8 924.9,302.7" fill="none" stroke="#000" stroke-width="1.0"/>
<polygon points="950.0,236.0 963.0,236.0 956.5,246.9" fill="none" stroke="#000" stroke-width="1.0"/>
<polygon points="981.6,180.7 994.6,180.7 988.1,191.6" fill="none" stroke="#000" stroke-width="1.0"/>
<polygon points="1013.2,128.4 1026.2,128.4 1019.7,139.3" fill="none" stroke="#000" stroke-width="1.0"/>
<polygon points="1044.8,86.9 1057.8,86.9 1051.3,97.8" fill="none" stroke="#000" stroke-width="1.0"/>
<polygon points="1076.4,67.4 1089.4,67.4 1082.9,78.3" fill="none" stroke="#000" stroke-width="1.0"/>
<polygon points="1108.0,60.6 1121.0,60.6 1114.5,71.5" fill="none" stroke="#000" stroke-width="1.0"/>
<polygon points="1139.6,58.8 1152.6,58.8 1146.1,69.7" fill="none" stroke="#000" stroke-width="1.0"/>
<polygon points="1171.2,58.5 1184.2,58.5 1177.7,69.4" fill="none" stroke="#000" stroke-width="1.0"/>
<polygon points="960.1,315.2 949.2,321.7 960.1,328.2" fill="none" stroke="#000" stroke-width="1.0"/>
<polygon points="991.7,258.3 980.8,264.8 991.7,271.3" fill="none" stroke="#000" stroke-width="1.0"/>
<polygon points="1023.3,197.5 1012.4,204.0 1023.3,210.5" fill="none" stroke="#000" stroke-width="1.0"/>
<polygon points="1054.9,127.5 1044.0,134.0 1054.9,140.5" fill="none" stroke="#000" stroke-width="1.0"/>
<polygon points="1086.5,73.0 1075.6,79.5 1086.5,86.0" fill="none" stroke="#000" stroke-width="1.0"/>
<polygon points="1118.1,58.5 1107.2,65.0 1118.1,71.5" fill="none" stroke="#000" stroke-width="1.0"/>
<polygon points="1149.7,56.0 1138.8,62.5 1149.7,69.0" fill="none" stroke="#000" stroke-width="1.0"/>
<polygon points="1181.3,55.6 1170.4,62.1 1181.3,68.6" fill="none" stroke="#000" stroke-width="1.0"/>
<g><text transform="translate(316.45 40.30) scale(1.020 1)" font-family="'Liberation Serif', serif" font-size="25" fill="#000">(</text><text transform="translate(324.78 40.30) scale(0.906 1)" font-family="'Liberation Serif', serif" font-size="25" fill="#000">3</text><text transform="translate(339.30 40.30) scale(1.131 1)" font-family="'Liberation Serif', serif" font-size="25" font-style="italic" fill="#000">Σ</text><text transform="translate(358.00 45.20) scale(1.134 1)" font-family="'Liberation Serif', serif" font-size="34.0" fill="#000">/</text><text transform="translate(368.51 40.30) scale(1.060 1)" font-family="'Liberation Serif', serif" font-size="25" fill="#000">2</text><text transform="translate(380.25 41.30) scale(0.836 1)" font-family="'Liberation Serif', serif" font-size="31.2" fill="#000">√</text><text transform="translate(394.25 40.30) scale(1.110 1)" font-family="'Liberation Serif', serif" font-size="25" fill="#000">2</text><text transform="translate(409.36 40.30) scale(0.965 1)" font-family="'Liberation Serif', serif" font-size="25" font-style="italic" fill="#000">β</text><text transform="translate(422.90 44.90) scale(0.898 1)" font-family="'Liberation Serif', serif" font-size="18.5" font-style="italic" fill="#000">p</text><text transform="translate(431.05 40.30) scale(1.000 1)" font-family="'Liberation Serif', serif" font-size="25" fill="#000">)</text></g>
<path d="M393.6 16.1H423.8" stroke="#000" stroke-width="1.25"/>
<g><text transform="translate(490.34 47.60) scale(1.035 1)" font-family="'Liberation Serif', serif" font-size="25" fill="#000">(</text><text transform="translate(501.10 47.60) scale(1.214 1)" font-family="'Liberation Serif', serif" font-size="25" font-style="italic" fill="#000">Σ</text><text transform="translate(520.07 47.60) scale(0.980 1)" font-family="'Liberation Serif', serif" font-size="25" font-style="italic" fill="#000">β</text><text transform="translate(532.29 52.20) scale(0.979 1)" font-family="'Liberation Serif', serif" font-size="18.5" font-style="italic" fill="#000">p</text><text transform="translate(541.80 52.50) scale(1.016 1)" font-family="'Liberation Serif', serif" font-size="34.0" fill="#000">/</text><text transform="translate(552.76 47.60) scale(0.925 1)" font-family="'Liberation Serif', serif" font-size="25" fill="#000">3</text><text transform="translate(563.80 47.60) scale(1.095 1)" font-family="'Liberation Serif', serif" font-size="25" fill="#000">0</text><text transform="translate(578.15 47.60) scale(1.000 1)" font-family="'Liberation Serif', serif" font-size="25" fill="#000">)</text></g>
<g><text transform="translate(921.65 22.60) scale(1.020 1)" font-family="'Liberation Serif', serif" font-size="25" fill="#000">(</text><text transform="translate(929.77 22.60) scale(0.916 1)" font-family="'Liberation Serif', serif" font-size="25" fill="#000">3</text><text transform="translate(944.50 22.60) scale(1.138 1)" font-family="'Liberation Serif', serif" font-size="25" font-style="italic" fill="#000">Σ</text><text transform="translate(963.30 27.50) scale(0.984 1)" font-family="'Liberation Serif', serif" font-size="34.0" fill="#000">/</text><text transform="translate(973.21 22.60) scale(1.060 1)" font-family="'Liberation Serif', serif" font-size="25" fill="#000">2</text><text transform="translate(987.68 22.60) scale(1.004 1)" font-family="'Liberation Serif', serif" font-size="25" font-style="italic" fill="#000">β</text><text transform="translate(1000.42 27.20) scale(0.988 1)" font-family="'Liberation Serif', serif" font-size="18.5" font-style="italic" fill="#000">s</text><text transform="translate(1007.65 22.60) scale(1.000 1)" font-family="'Liberation Serif', serif" font-size="25" fill="#000">)</text></g>
<g><text transform="translate(1059.85 31.00) scale(1.020 1)" font-family="'Liberation Serif', serif" font-size="25" fill="#000">(</text><text transform="translate(1071.20 31.00) scale(1.207 1)" font-family="'Liberation Serif', serif" font-size="25" font-style="italic" fill="#000">Σ</text><text transform="translate(1089.49 31.00) scale(1.051 1)" font-family="'Liberation Serif', serif" font-size="25" font-style="italic" fill="#000">β</text><text transform="translate(1102.32 35.60) scale(0.988 1)" font-family="'Liberation Serif', serif" font-size="18.5" font-style="italic" fill="#000">s</text><text transform="translate(1109.80 35.90) scale(0.984 1)" font-family="'Liberation Serif', serif" font-size="34.0" fill="#000">/</text><text transform="translate(1120.35 31.00) scale(0.949 1)" font-family="'Liberation Serif', serif" font-size="25" fill="#000">6</text><text transform="translate(1133.40 31.00) scale(1.062 1)" font-family="'Liberation Serif', serif" font-size="25" fill="#000">)</text></g>
<g><text transform="translate(258.35 573.80) scale(1.053 1)" font-family="'Liberation Serif', serif" font-size="28.5" font-style="italic" fill="#000">β</text><text transform="translate(273.69 578.30) scale(1.026 1)" font-family="'Liberation Serif', serif" font-size="19.3" font-style="italic" fill="#000">p</text><text transform="translate(286.30 573.80) scale(1.289 1)" font-family="'Liberation Serif', serif" font-size="28.5" font-style="italic" fill="#000">Σ</text><text transform="translate(307.30 573.80) scale(1.137 1)" font-family="'Liberation Serif', serif" font-size="28.5" fill="#000">,</text><text transform="translate(316.59 573.80) scale(1.101 1)" font-family="'Liberation Serif', serif" font-size="28.5" fill="#000">(</text><text transform="translate(329.60 573.80) scale(1.264 1)" font-family="'Liberation Serif', serif" font-size="28.5" font-style="italic" fill="#000">Σ</text><text transform="translate(352.20 579.39) scale(0.948 1)" font-family="'Liberation Serif', serif" font-size="38.76" fill="#000">/</text><text transform="translate(364.05 575.20) scale(0.825 1)" font-family="'Liberation Serif', serif" font-size="36.5" fill="#000">√</text><text transform="translate(381.98 573.80) scale(1.121 1)" font-family="'Liberation Serif', serif" font-size="28.5" font-style="italic" fill="#000">β</text><text transform="translate(397.33 578.30) scale(0.978 1)" font-family="'Liberation Serif', serif" font-size="19.3" font-style="italic" fill="#000">p</text><text transform="translate(407.83 573.80) scale(1.012 1)" font-family="'Liberation Serif', serif" font-size="28.5" fill="#000">)</text></g>
<path d="M379.8 546.5H404.2" stroke="#000" stroke-width="1.25"/>
<g><text transform="translate(882.57 587.80) scale(1.108 1)" font-family="'Liberation Serif', serif" font-size="28.5" font-style="italic" fill="#000">β</text><text transform="translate(898.40 592.50) scale(1.051 1)" font-family="'Liberation Serif', serif" font-size="19.3" font-style="italic" fill="#000">s</text><text transform="translate(908.70 587.80) scale(1.295 1)" font-family="'Liberation Serif', serif" font-size="28.5" font-style="italic" fill="#000">Σ</text><text transform="translate(930.39 587.80) scale(1.065 1)" font-family="'Liberation Serif', serif" font-size="28.5" fill="#000">,</text><text transform="translate(938.82 587.80) scale(1.073 1)" font-family="'Liberation Serif', serif" font-size="28.5" fill="#000">(</text><text transform="translate(951.70 587.80) scale(1.295 1)" font-family="'Liberation Serif', serif" font-size="28.5" font-style="italic" fill="#000">Σ</text><text transform="translate(974.20 593.39) scale(0.985 1)" font-family="'Liberation Serif', serif" font-size="38.76" fill="#000">/</text><text transform="translate(988.16 587.80) scale(1.080 1)" font-family="'Liberation Serif', serif" font-size="28.5" font-style="italic" fill="#000">β</text><text transform="translate(1002.10 592.50) scale(1.051 1)" font-family="'Liberation Serif', serif" font-size="19.3" font-style="italic" fill="#000">s</text><text transform="translate(1010.43 587.80) scale(1.012 1)" font-family="'Liberation Serif', serif" font-size="28.5" fill="#000">)</text></g>
<g><text transform="translate(8.59 23.90) scale(1.109 1)" font-family="'Liberation Serif', serif" font-size="28.3" fill="#000">(</text><text transform="translate(18.35 24.90) scale(1.118 1)" font-family="'Liberation Serif', serif" font-size="28.3" font-style="italic" fill="#000">a</text><text transform="translate(33.93 23.90) scale(1.142 1)" font-family="'Liberation Serif', serif" font-size="28.3" fill="#000">)</text></g>
<g><text transform="translate(620.36 23.80) scale(1.053 1)" font-family="'Liberation Serif', serif" font-size="28.3" fill="#000">(</text><text transform="translate(630.23 24.60) scale(1.080 1)" font-family="'Liberation Serif', serif" font-size="28.3" font-style="italic" fill="#000">b</text><text transform="translate(645.90 23.80) scale(1.060 1)" font-family="'Liberation Serif', serif" font-size="28.3" fill="#000">)</text></g>
<g transform="translate(35.7 0) rotate(-90)">
<g><text transform="translate(-294.08 1.70) scale(1.350 1)" font-family="'Liberation Serif', serif" font-size="28" fill="#000">−</text><text transform="translate(-271.00 0.00) scale(1.020 1)" font-family="'Liberation Serif', serif" font-size="28" font-style="italic" fill="#000">η</text><text transform="translate(-255.94 4.70) scale(0.862 1)" font-family="'Liberation Serif', serif" font-size="19.6" fill="#000">1</text><text transform="translate(-256.25 -6.30) scale(1.000 1)" font-family="'Liberation Serif', serif" font-size="21" fill="#000">*</text></g>
</g>
</svg></body></html>
